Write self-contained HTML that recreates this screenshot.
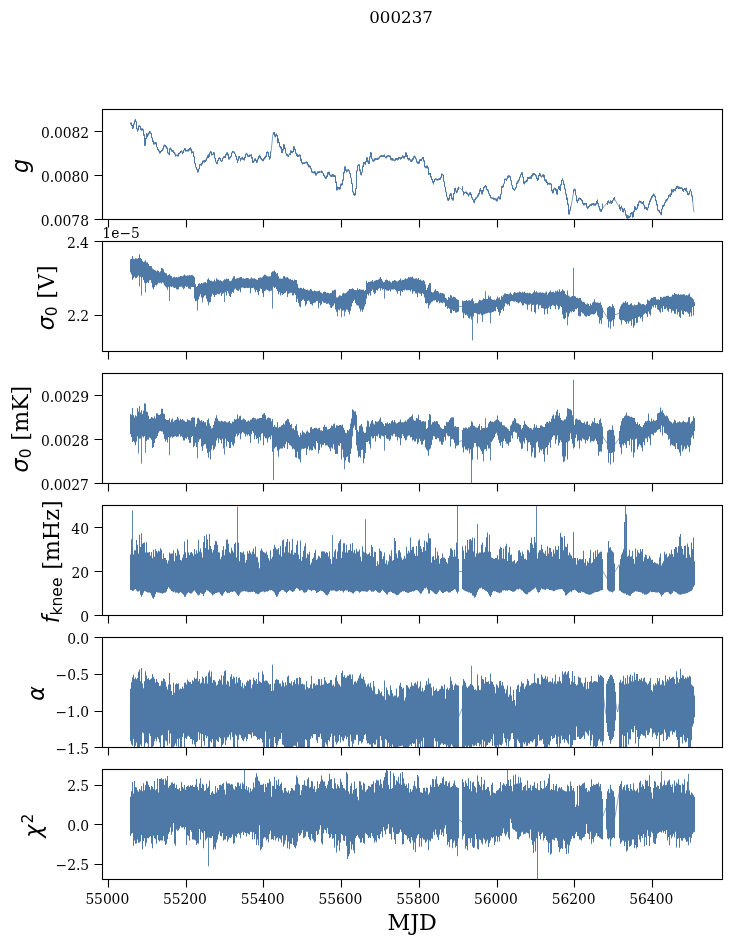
<!DOCTYPE html>
<html lang="en"><head><meta charset="utf-8"><title>000237</title>
<style>
html,body{margin:0;padding:0;background:#fff}
svg{display:block}
text{font-family:"DejaVu Serif","Liberation Serif",serif;fill:#000}
.t{font-size:13.889px}
.l{font-size:22.222px}
.m{font-family:"DejaVu Sans","Liberation Sans",sans-serif;font-style:oblique;font-size:22.222px}
.s{font-family:"DejaVu Sans","Liberation Sans",sans-serif;font-size:15.556px}
.sp{stroke:#000;stroke-width:1.111;fill:none;stroke-linecap:square}
.tk{stroke:#000;stroke-width:1.111;fill:none}
.b{stroke:#4e79a7;stroke-width:1.04;fill:none}
.k{stroke:#4e79a7;stroke-width:0.9;fill:none}
.d{stroke:#4e79a7;stroke-width:0.694;fill:none;stroke-linejoin:round;stroke-linecap:square}
</style></head>
<body>
<svg width="732" height="944" viewBox="0 0 732 944">
<rect width="732" height="944" fill="#fff"/>
<text class="t" style="font-size:16.667px" x="369.23 379.86 390.48 401.11 411.73 422.36" y="22.66">000237</text>
<g>
<g>
<path class="b" d="M130.5 122.5V124.4M131.5 122.5V126.1M132.5 125V128.9M133.5 123.4V128.5M134.5 120.2V124.6M135.5 119.1V122.1M136.5 121.3V129.2M137.5 128.3V131.7M138.5 125.5V130.3M139.5 125.2V126.9M140.5 126.1V129.9M141.5 128.3V130.8M142.5 128.3V130.6M143.5 129.3V135.7M144.5 134.2V145.9M145.5 138V145.6M146.5 133.1V138.9M147.5 133.7V137.3M148.5 132.4V135.6M149.5 131.1V133.7M150.5 131.6V133.8M151.5 133V138.2M152.5 137.4V141.9M153.5 140.5V144.6M154.5 142.3V144.4M155.5 142.1V144.2M156.5 142.5V147.3M157.5 146.9V149.9M158.5 148.9V151.6M159.5 150.5V153.4M160.5 150.9V153.2M161.5 150V152M162.5 148.3V150.9M163.5 145.6V149.4M164.5 144.5V146.8M165.5 144.9V147.2M166.5 145.9V148.7M167.5 147.4V153.2M168.5 152.4V154.5M169.5 148.3V155.3M170.5 147.6V150M171.5 148.7V151.4M172.5 150.1V152.1M173.5 150.3V153M174.5 151.9V154.5M175.5 153.5V156.6M176.5 154.7V156.1M177.5 154.6V156.4M178.5 153V156.4M179.5 152.2V154.3M180.5 151V153.2M181.5 150.4V152.5M182.5 151.5V154.2M183.5 150.1V153.1M184.5 147.9V150.5M185.5 148.3V151.4M186.5 149.7V151.4M187.5 149.4V151.6M188.5 148.9V151.4M189.5 147.9V150.4M190.5 147.2V150.4M191.5 148.8V153.5M192.5 151.2V153M193.5 151.5V156.9M194.5 156.2V163.7M195.5 162.9V167.5M196.5 167.1V169.7M197.5 168.9V172.5M198.5 168.4V172.3M199.5 164.3V169.3M200.5 163.8V165.6M201.5 162.8V165.8M202.5 160.7V164.2M203.5 160.3V162.4M204.5 160.1V162.7M205.5 159.4V161.9M206.5 157.4V160.8M207.5 155.2V158.4M208.5 154.2V158.1M209.5 152.6V157M210.5 151.1V153.5M211.5 151.5V155.5M212.5 153.8V155.2M213.5 152V154.7M214.5 152.5V158.5M215.5 157.8V162.3M216.5 161.7V163.9M217.5 160.1V164.2M218.5 157.8V160.7M219.5 157.3V159.3M220.5 157.9V161.2M221.5 160.2V162.1M222.5 157.8V161.3M223.5 156.2V158.5M224.5 156.1V158.1M225.5 153.9V158.1M226.5 152.4V155.2M227.5 152.2V155.5M228.5 153.7V159.6M229.5 157.1V159.5M230.5 155.8V158.3M231.5 152.6V156.7M232.5 151.1V153.3M233.5 151V152.8M234.5 151.7V154M235.5 153.6V156.8M236.5 155.8V160M237.5 159.3V162.9M238.5 156.2V160.8M239.5 155.9V158.5M240.5 158V161.4M241.5 157.5V159.8M242.5 156.7V159.4M243.5 158V160.3M244.5 156.7V160.6M245.5 153.7V157.9M246.5 152.8V154.8M247.5 153.8V156.7M248.5 155.2V157.1M249.5 154.5V156.9M250.5 154.4V156.2M251.5 154.2V158.5M252.5 156.9V162.9M253.5 160.5V162.7M254.5 158.5V161.6M255.5 158.3V161M256.5 160.1V162.9M257.5 158.6V162.4M258.5 156.1V159.6M259.5 154.8V157.7M260.5 155.8V159.1M261.5 157.8V160.3M262.5 159V161.2M263.5 158.3V161.3M264.5 156.7V159.5M265.5 155.6V158.5M266.5 151.9V157M267.5 151.2V153.6M268.5 151.9V157.1M269.5 156.2V159.8M270.5 151.5V158.6M273.5 132V134.5M274.5 132V136.6M275.5 134.2V137.4M276.5 133.4V136.2M277.5 135.1V143.2M278.5 138.6V142.9M279.5 142V147M280.5 145.9V148.7M281.5 146.8V152.9M282.5 148.9V153.3M283.5 143.9V150.4M284.5 144.6V149.1M285.5 147.7V153.6M286.5 153.3V155.8M287.5 154.1V156.4M288.5 154.8V157.1M289.5 153.2V155.3M290.5 150.3V155M291.5 150.6V152.9M292.5 150.9V153.3M293.5 146.2V152.1M294.5 146.6V150.2M295.5 148.9V153.7M296.5 152.8V156.1M297.5 153.7V156.9M298.5 155V157M299.5 154.3V156.5M300.5 154.8V161M301.5 158.7V163.2M302.5 162.2V164.6M303.5 162.3V164.1M304.5 162.2V163.9M305.5 161.7V163.6M306.5 161.5V163.4M307.5 162V165.5M308.5 164.1V167.2M309.5 165.3V167.4M310.5 165.8V169.1M311.5 168.3V172.5M312.5 171.3V173M313.5 171.6V173.4M314.5 171V173.5M315.5 171.4V175.5M316.5 172.7V175.5M317.5 171.6V173.7M318.5 171.2V173.2M319.5 170.9V173.1M320.5 171.2V172.6M321.5 170.5V173.1M322.5 171.3V173.4M323.5 173V175.9M324.5 174.8V177.8M325.5 176.5V178.9M326.5 175.5V178.7M327.5 172.2V176.9M328.5 171.8V174.4M329.5 171.8V175.6M330.5 174.5V176.7M331.5 174.8V176.9M332.5 174.1V176.7M333.5 174.3V177M334.5 175.1V177M335.5 175.6V183.1M336.5 181.6V190.4M337.5 186.4V190.2M338.5 187V189.3M339.5 187.1V189.7M340.5 183.7V189.3M341.5 183.3V185.8M342.5 179.5V185.2M343.5 172.1V180.8M344.5 166.4V173.2M345.5 166.3V171M346.5 169.5V172.6M347.5 169.4V171.5M348.5 169V171.3M349.5 170.2V173.8M350.5 172.9V178M351.5 177.8V184M352.5 183.2V192.3M353.5 191.4V195.1M354.5 193.3V196M355.5 188.2V195.3M356.5 170.4V189M357.5 165.2V171.3M358.5 164.3V166.1M359.5 164.3V171.2M360.5 169.6V174.7M361.5 172V175.6M362.5 165.4V172.5M363.5 162V167.1M364.5 162.1V164.3M365.5 161.3V165.1M366.5 157.2V162M367.5 157.2V162.4M368.5 160.6V164.1M369.5 156.4V163.9M370.5 152V157.5M371.5 152.4V159.1M372.5 158.4V161.2M373.5 159.4V161.7M374.5 158.2V161.3M375.5 157.9V160.3M376.5 158.2V159.9M377.5 157.7V159.9M378.5 157.5V159.4M379.5 156.2V158.4M380.5 155.3V157.2M381.5 155.1V157.1M382.5 155.3V157.1M383.5 155.1V157M384.5 154.4V156.9M385.5 156.4V158.3M386.5 155.8V158.2M387.5 155.2V157.3M388.5 155V156.8M389.5 155.4V157.2M390.5 155.6V159.8M391.5 157.8V160.5M392.5 158.1V160.8M393.5 158.8V160.6M394.5 159.5V161.2M395.5 158V160.7M396.5 158V160M397.5 157.9V160.6M398.5 157.1V159.8M399.5 157V158.7M400.5 157.2V159.7M401.5 156.8V159.1M402.5 155.3V157.8M403.5 155.8V158.4M404.5 156V158.5M405.5 152.2V157M406.5 152.4V156.7M407.5 155.1V159.2M408.5 158V160.4M409.5 157.8V160.3M410.5 159.3V161.7M411.5 159.6V162M412.5 158.2V161.2M413.5 156.3V159.7M414.5 155.6V157.8M415.5 156.5V159.2M416.5 158.4V162.4M417.5 161.2V163.8M418.5 161.4V164.1M419.5 159.2V163.6M420.5 159V161M421.5 158.6V160.9M422.5 156.9V159.3M423.5 157V161.6M424.5 160.2V167.3M425.5 166.1V168.2M426.5 165.6V168.2M427.5 165.4V168.6M428.5 167.3V175.1M429.5 173.1V174.8M430.5 173V177.6M431.5 176.3V179.9M432.5 179V182.8M433.5 181V184.6M434.5 179V182.1M435.5 178.3V180M436.5 178.5V180.6M437.5 178.9V180.4M438.5 178.4V180.3M439.5 177.9V180M440.5 176.8V179.8M441.5 173.4V178M442.5 173.7V175.6M443.5 174.8V181.7M444.5 181.2V187.1M445.5 186.7V192.2M446.5 191.7V196.9M447.5 196.8V200.5M448.5 198.1V200.9M449.5 194.6V199.7M450.5 192.9V196.1M451.5 193.6V199.2M452.5 197.6V200.6M453.5 192.9V200.4M454.5 188.1V194.1M455.5 187.8V191.6M456.5 190.5V193.2M457.5 188.3V192.6M458.5 186.8V190M462.5 186.2V191.5M463.5 190.9V195.4M464.5 192.1V193.8M465.5 191.4V192.9M466.5 191.7V194.1M467.5 192.5V194.7M468.5 193.8V196.5M469.5 192.5V195.2M470.5 192.1V195.2M471.5 193.7V198.3M472.5 197.2V200.1M473.5 199.4V202.6M474.5 199.1V203.3M475.5 197.6V200.3M476.5 196.8V198.7M477.5 194.7V197.6M478.5 193V196.6M479.5 189.4V194.4M480.5 187.9V191.6M481.5 190.1V194.3M482.5 190.1V194.5M483.5 187V191.4M484.5 185.9V188.3M485.5 184.9V187.2M486.5 185.7V190M487.5 189V191.3M488.5 189.8V193.7M489.5 193.2V195.9M490.5 194.9V198.2M491.5 197.2V198.8M492.5 197.5V198.9M493.5 197.4V199.7M494.5 198.1V199.8M495.5 198.2V200.4M496.5 198.6V201.6M497.5 197.5V201.2M498.5 196.3V198.5M499.5 196.6V199.4M500.5 193.8V199.5M501.5 186.3V194.5M502.5 185.6V188M503.5 183.4V187.2M504.5 178.8V183.8M505.5 178.4V180.1M506.5 178.4V181.1M507.5 175.8V179.3M508.5 175.2V177.7M509.5 175.3V177.5M510.5 176.2V180.8M511.5 180.2V185.5M512.5 185V189.1M513.5 187.9V190.1M514.5 188.8V191M515.5 186.9V189.6M516.5 182.5V187.8M517.5 180.7V183.9M518.5 179.5V182.4M519.5 176.7V180.5M520.5 174.2V177.5M521.5 172.2V175M522.5 172.3V177.5M523.5 176.8V183.8M524.5 181.3V184.6M525.5 180.8V182.8M526.5 179.8V182.3M527.5 176.9V181.5M528.5 177V178.9M529.5 176.8V178.9M530.5 176.3V178.7M531.5 175.1V178.8M532.5 173.6V176.6M533.5 173V175.4M534.5 173V175M535.5 174.1V176.5M536.5 175.3V179.1M537.5 177.8V180.9M538.5 175.1V180.1M539.5 173.1V176.1M540.5 173.6V176.5M541.5 175.4V177.5M542.5 174.5V176.8M543.5 174.3V177.5M544.5 175V180.7M545.5 179.2V181.8M546.5 179.6V183.1M547.5 181.8V185M548.5 182.9V184.6M549.5 182.8V184.7M550.5 183V184.8M551.5 183.7V191.2M552.5 189.8V193.6M553.5 188.8V193M554.5 187.6V189.8M555.5 187.9V190.8M556.5 189V194.4M557.5 189.2V194.8M558.5 185.9V189.2M559.5 186V190.1M560.5 184.3V191.1M561.5 179.9V185.2M562.5 178.6V181.1M563.5 180.4V185.1M564.5 183.7V189.2M565.5 188.5V194.7M566.5 193.8V199.9M567.5 197.6V205.1M568.5 203.4V214.5M569.5 209.7V214.4M570.5 206.4V210.8M573.5 189.5V193.2M574.5 188.5V190.8M575.5 189.2V195.6M576.5 195.2V201.4M577.5 199.8V203M578.5 198V201.1M579.5 197.4V199.5M580.5 198V200M581.5 198.8V201.2M582.5 200V204M583.5 202.8V205.6M584.5 203V205.3M585.5 203.1V204.8M586.5 203.1V207.6M587.5 206.5V208.9M588.5 206V208.2M589.5 204.7V206.9M590.5 204V205.9M591.5 203.5V205.9M592.5 203.2V205M593.5 202.9V205.4M594.5 203.6V205.8M595.5 203.2V205.8M596.5 200.9V204.6M597.5 199.5V204.3M598.5 203.2V207.3M599.5 206.3V210.6M600.5 208.8V211.8M601.5 208.9V211.9M602.5 203.6V209.6M607.5 201.1V205.1M608.5 200.3V203.1M609.5 201.7V203.6M610.5 200.3V203.6M611.5 201.1V204.1M612.5 199.9V203.1M613.5 198V200.5M614.5 197.1V200.4M619.5 204.6V209.2M620.5 207.1V210.8M621.5 205.7V208.8M622.5 207.7V212.1M623.5 208.8V212.4M624.5 208V210.7M625.5 210.2V215.5M626.5 214.2V218.2M627.5 215.1V218.8M628.5 215.5V218.4M629.5 215.7V218M630.5 213.1V216.9M631.5 211.9V214.6M632.5 212V217.8M633.5 210.7V217M634.5 206.3V211.9M635.5 206.4V209.9M636.5 207.7V210.3M637.5 204.1V208.8M638.5 201.8V206.2M639.5 200.4V202.8M640.5 200.9V203.1M641.5 201.5V203.8M642.5 201.9V204.1M643.5 201.1V205.5M644.5 204.8V209.2M645.5 206.7V208.8M646.5 207V209.9M647.5 207.4V210.4M648.5 203.5V208.2M649.5 200.4V204.8M650.5 198.3V202.1M651.5 195.9V199.6M652.5 194.8V197.5M653.5 193.5V196M654.5 194.4V197.1M655.5 195.9V201.2M656.5 200.2V205.6M657.5 204.1V210.4M658.5 209.5V211.5M659.5 210.1V213.1M660.5 212.1V214.6M661.5 208.8V215.2M662.5 205.1V209.6M663.5 204.6V207M664.5 202.3V205.8M665.5 199.7V203.1M666.5 199V201.6M667.5 198.1V200.4M668.5 195.1V198.4M669.5 194.2V196.5M670.5 193.3V197.1M671.5 189.1V194.9M672.5 189.4V192.6M673.5 189.1V192.2M674.5 188.9V190.7M675.5 187.8V191.2M676.5 186.1V188.9M677.5 185.8V188.3M678.5 186.2V189M679.5 186.7V188.9M680.5 187.2V188.9M681.5 187.2V189M682.5 187.7V191.1M683.5 189.1V192.1M684.5 187.9V190.1M685.5 188.2V190.9M686.5 187.8V192.2M687.5 191.2V194.9M688.5 193.1V195.3M689.5 190.8V194.5M690.5 189V191.6M691.5 191.2V196.2M692.5 195.5V201.3"/>
<path class="d" d="M602 209.1 608 201.7M614 198.2 620 208.4M459 187.4 463 190.9M571 207.1 574 189.8M271 152.1 273 133.7M692 195.5 693.9 211.8"/>
</g>
<path class="tk" d="M108.5 219.5v8M186.5 219.5v8M263.5 219.5v8M341.5 219.5v8M419.5 219.5v8M497.5 219.5v8M574.5 219.5v8M652.5 219.5v8M102.5 131.5h-8M102.5 175.5h-8M102.5 219.5h-8"/>
<rect class="sp" x="102.5" y="109.5" width="620.0" height="110.0"/>
<text class="t" x="40.91 49.66 53.91 62.66 71.41 80.16" y="137.58">0.0082</text>
<text class="t" x="40.91 49.66 53.91 62.66 71.41 80.16" y="181.58">0.0080</text>
<text class="t" x="40.79 49.54 53.79 62.54 71.29 80.16" y="225.58">0.0078</text>
</g>
<g>
<g>
<path class="b" d="M130.5 259.2V272.3M131.5 258.7V274.5M132.5 255.9V279.8M133.5 258.7V278.3M134.5 259.2V276.7M135.5 258.3V278.3M136.5 258.4V278M137.5 258.7V276.7M138.5 257.9V275.6M139.5 254.3V277M140.5 258.1V276.7M141.5 259V277.4M142.5 260.8V277.2M143.5 261.9V280M144.5 261.4V282.7M145.5 260.3V282.9M146.5 262.5V283.3M147.5 262.3V282.2M148.5 264.1V283M149.5 266V280.5M150.5 266.1V280M151.5 266.3V282.7M152.5 268.5V287.6M153.5 269.4V289.3M154.5 270.1V287.1M155.5 270.5V284.9M156.5 271.2V285.4M157.5 270.4V284.3M158.5 270.9V282.8M159.5 272.3V283.3M160.5 271.2V282.8M161.5 268V283.5M162.5 268.2V282.2M163.5 269.6V283.3M164.5 272.3V285.4M165.5 273V286.5M166.5 273.6V287.5M167.5 275.4V289.8M168.5 275.1V287.1M169.5 274.3V287M170.5 275.6V286.5M171.5 276.1V287.1M172.5 277.7V286.4M173.5 277.2V287.4M174.5 276.7V287.9M175.5 277.6V287.8M176.5 276.9V289.3M177.5 277.5V289.6M178.5 276.7V289.3M179.5 276.8V287.1M180.5 276.1V286.7M181.5 276.1V286.5M182.5 276.2V287.6M183.5 275.6V289.3M184.5 274.5V288.2M185.5 275.6V286.2M186.5 275.7V287.1M187.5 275.4V286.5M188.5 275.6V288.4M189.5 275V288.7M190.5 275.4V289.3M191.5 274.9V287.1M192.5 275.2V287M193.5 275.8V287.1M194.5 277.2V298.6M195.5 284.3V301.3M196.5 287.1V300.7M197.5 286V301.8M198.5 283.8V299.6M199.5 283.3V296.4M200.5 283.9V294.2M201.5 283V297.5M202.5 283.6V299.6M203.5 282.7V297.5M204.5 282.2V295.8M205.5 282.2V295.3M206.5 282.9V298.7M207.5 279.6V301.4M208.5 278.2V303.6M209.5 280.1V302.5M210.5 280.8V302M211.5 280.7V296.5M212.5 281.5V293.8M213.5 281.2V295.1M214.5 279.6V297.1M215.5 281.3V294.9M216.5 278.2V294.7M217.5 279.6V293.8M218.5 279.8V294.2M219.5 280.4V294.3M220.5 280.2V292.7M221.5 281V296M222.5 281.4V293.8M223.5 280.4V293.3M224.5 279.3V291.2M225.5 279.6V292.2M226.5 278.5V295.4M227.5 278.9V291.1M228.5 278.8V293.3M229.5 280.7V296M230.5 281.2V297.1M231.5 280.4V293.8M232.5 278.5V292.1M233.5 276.6V292.7M234.5 276.3V289.4M235.5 279V288.6M236.5 278.5V290M237.5 278V290.4M238.5 278.2V291.1M239.5 277.4V289.4M240.5 277.1V292.2M241.5 276.9V287.8M242.5 278.5V287.4M243.5 278.2V287.8M244.5 278.7V288.3M245.5 278.5V287.9M246.5 278V287.8M247.5 277.9V288.1M248.5 278.2V288M249.5 279.2V287.8M250.5 278.5V293.3M251.5 277.4V288.3M252.5 278.5V287.9M253.5 278.5V287.8M254.5 278.2V289.4M255.5 278.9V292.2M256.5 279.6V290M257.5 279.9V292.2M258.5 278V295.2M259.5 277.8V291.1M260.5 277.4V288.4M261.5 277.7V288.9M262.5 277V293.3M263.5 275.8V297.1M264.5 274.5V291.1M265.5 275.1V290.5M266.5 275.8V289.5M267.5 276.3V290M268.5 276.5V290.8M269.5 276.3V291.4M270.5 276.3V290.5M271.5 272.5V290.8M272.5 271.4V286.5M273.5 271.2V286.7M274.5 270.5V287.9M275.5 271.9V287.2M276.5 273.8V288.9M277.5 273V291.1M278.5 276.3V294.3M279.5 278.5V292.2M280.5 278.5V295.4M281.5 278.8V293.3M282.5 278.5V294.9M283.5 276.3V294M284.5 275.9V293.3M285.5 277.4V292.7M286.5 277.4V291.2M287.5 276.9V297.1M288.5 278.2V293.8M289.5 279.3V293.3M290.5 278.8V292.7M291.5 280.1V292.7M292.5 279.7V295.4M293.5 280.7V295.3M294.5 279.6V293.3M295.5 280V294.9M296.5 279.9V302M297.5 284V298.7M298.5 287.8V303.1M299.5 288.3V306.2M300.5 287.7V307.2M301.5 288V300.9M302.5 288.7V299.8M303.5 287.8V299.4M304.5 289.1V300.9M305.5 289.6V305.9M306.5 290V304.2M307.5 289.4V300.9M308.5 290.6V300.6M309.5 290.2V301.4M310.5 289.1V304.1M311.5 289.6V304.2M312.5 291.1V305.5M313.5 291.3V303.1M314.5 290.6V302.7M315.5 291.1V302.5M316.5 291.3V301.1M317.5 291.3V300.9M318.5 291.1V308.3M319.5 290.4V303.1M320.5 292.2V305.5M321.5 292.7V304.2M322.5 293.5V301.3M323.5 291.9V302.5M324.5 291.5V303.1M325.5 291.9V302.7M326.5 292.7V304M327.5 292.8V303.8M328.5 293V303.6M329.5 293.4V304.7M330.5 293V307.5M331.5 292.7V308M332.5 290.5V306.4M333.5 290.5V305.4M334.5 289.8V303.6M335.5 289.8V309.6M336.5 297.2V311.8M337.5 297.4V312.6M338.5 296.5V309.6M339.5 295.3V310.4M340.5 295.4V308.6M341.5 296V309.7M342.5 293.8V310.7M343.5 292.7V310.2M344.5 293.4V309.4M345.5 293.3V311.8M346.5 292.6V309.6M347.5 291.6V309.8M348.5 290.5V311.8M349.5 289V314.6M350.5 288.9V310.7M351.5 289.1V306.4M352.5 288.3V303.1M353.5 288.9V300.9M354.5 290V299.8M355.5 290V303.1M356.5 290.2V304.7M357.5 288.3V305.4M358.5 289.8V305.8M359.5 288.9V308.6M360.5 289.4V311.6M361.5 289.8V309.6M362.5 289.8V311.8M363.5 289.4V309.6M364.5 290.9V306.4M365.5 290V304.2M366.5 280.7V298.7M367.5 282.9V294.3M368.5 281.8V295.4M369.5 282.1V293.3M370.5 281.6V295.4M371.5 281.2V291.1M372.5 280.1V289.5M373.5 281.8V292.2M374.5 280.7V293.9M375.5 280.6V293.3M376.5 280.1V290M377.5 280V290.4M378.5 279.6V288.9M379.5 278.5V287.9M380.5 276.9V290.5M381.5 279V288.3M382.5 280.7V289.8M383.5 282.2V288.9M384.5 281.8V288.5M385.5 279.9V289.4M386.5 279.4V290.4M387.5 280.1V290.5M388.5 281.2V291.1M389.5 280.7V289.8M390.5 281.8V291.6M391.5 282.7V289.6M392.5 281V289.4M393.5 280.7V289.4M394.5 279.9V289.3M395.5 280.5V290M396.5 281.2V291.6M397.5 281.4V293.8M398.5 280.7V291.1M399.5 279.9V291.1M400.5 278.5V295.7M401.5 280.4V291.1M402.5 279.8V292.1M403.5 279.9V290M404.5 279.6V290.5M405.5 278.2V289.4M406.5 278.9V290.2M407.5 278.5V290.2M408.5 277V290.3M409.5 277.4V290M410.5 276.9V291.6M411.5 277.2V289.7M412.5 276.6V293.8M413.5 278.2V291.6M414.5 278.8V291.2M415.5 278.5V293.3M416.5 278.2V293.5M417.5 279.3V297.1M418.5 278V292.7M419.5 279.9V293.4M420.5 279.6V293.8M421.5 280.4V296M422.5 280.7V293.3M423.5 280V294.3M424.5 281.2V297.6M425.5 284.5V303.1M426.5 290V303.6M427.5 287.8V303.1M428.5 285.1V308.6M429.5 283.2V305.3M430.5 283.2V303.6M431.5 291.8V302.2M432.5 292.4V301.6M433.5 292.3V300.6M434.5 290.4V300.5M435.5 289.3V300M436.5 291V302.3M437.5 291.1V302.2M438.5 291.8V301.1M439.5 293.6V303.3M440.5 292.7V302.5M441.5 293.2V302.7M442.5 293V303.2M443.5 293.6V302.2M444.5 294.3V302.7M445.5 297.8V307.1M446.5 298.5V306M447.5 300V308.7M448.5 297V308.1M449.5 297.8V308.7M450.5 295.1V313.1M451.5 295.4V313.3M452.5 297.4V309.8M453.5 296.7V310.9M454.5 297V310.8M455.5 297.6V312.5M456.5 298.9V312.5M457.5 299.4V312M458.5 300V311.4M462.5 300.5V312.5M463.5 301.3V318.3M464.5 301.1V313.6M465.5 300.8V315.3M466.5 300V314.4M467.5 301.1V315.8M468.5 300.5V318.1M469.5 300.2V318.6M470.5 300.8V316.4M471.5 299.4V319.6M472.5 298.2V315.1M473.5 301.1V316.4M474.5 303.5V313.1M475.5 303.1V313.1M476.5 303.3V313.6M477.5 303V313.5M478.5 301.6V314.2M479.5 299.8V314.6M480.5 300.2V313.6M481.5 300.6V315.3M482.5 299.8V315.5M483.5 298.2V314.6M484.5 299.1V314.2M485.5 298V313.6M486.5 298.9V313.6M487.5 299.1V313.1M488.5 295.4V312.5M489.5 297.2V313.1M490.5 296.3V313.4M491.5 298.9V312.5M492.5 299.8V312M493.5 299.9V311.7M494.5 299.4V310.9M495.5 300.2V311.3M496.5 298.7V307.1M497.5 296.5V309.3M498.5 298.3V312M499.5 297.3V315.5M500.5 299.8V313.1M501.5 295.7V309.9M502.5 296.7V308.7M503.5 295.1V310.9M504.5 293.4V306.5M505.5 293.4V303.3M506.5 294.1V303.7M507.5 293.9V304.8M508.5 294.2V304.3M509.5 293.7V306.1M510.5 292.6V301.5M511.5 294V301M512.5 295V301M513.5 293.3V301.5M514.5 291.9V301.8M515.5 292.6V301.3M516.5 293V302.1M517.5 292.5V302.4M518.5 292.6V303.2M519.5 291.6V302.6M520.5 291.9V301.8M521.5 292.8V303.2M522.5 291.8V305.4M523.5 292.6V305.3M524.5 291.5V303.2M525.5 293V303.7M526.5 293V304.5M527.5 292.8V309.7M528.5 293.3V304.8M529.5 292.8V304.8M530.5 293.3V303.7M531.5 293.9V311.4M532.5 293.3V305M533.5 292.2V304.8M534.5 290.4V311.9M535.5 292.2V313.5M536.5 291.2V304.8M537.5 292.6V304.3M538.5 292.8V309.2M539.5 292.4V305.4M540.5 292.2V305.3M541.5 292.7V308.1M542.5 292.6V308.1M543.5 292.8V308.4M544.5 293.2V314.4M545.5 292.6V309.2M546.5 291.5V308.6M547.5 294.4V314.1M548.5 292.8V308.1M549.5 291.7V306.4M550.5 290.4V309.2M551.5 292.2V305.9M552.5 292.1V304.9M553.5 291.7V305.4M554.5 292.8V305.9M555.5 290.8V309.2M556.5 291.5V304.8M557.5 290.4V305.9M558.5 291.7V309.8M559.5 289.3V308.6M560.5 291.7V305.9M561.5 291.1V307M562.5 289.3V314.6M563.5 290.6V318.5M564.5 291.2V319.3M565.5 293.9V317.9M566.5 295V312.5M567.5 290.6V316.2M568.5 295.5V316.8M569.5 296.6V313.6M570.5 297.2V311.5M571.5 296.6V312.5M572.5 296.1V311M573.5 296.7V311.9M574.5 296.1V311.4M575.5 296.6V309M576.5 297.9V309.2M577.5 297.7V308.1M578.5 298.5V315.7M579.5 298V316.3M580.5 298V316.3M581.5 300.6V312.1M582.5 301.7V313.2M583.5 301.7V313.7M584.5 302.2V315.4M585.5 303.9V316.4M586.5 304.4V316.7M587.5 303.3V315.4M588.5 304.1V315.9M589.5 306.1V315.9M590.5 303.4V314.8M591.5 305V314.2M592.5 302.8V314.3M593.5 301.7V314.5M594.5 299.3V314.3M595.5 302.2V313.2M596.5 302.6V311.4M597.5 302.6V315.4M598.5 302.8V317M599.5 303V323.6M600.5 302.2V320.3M601.5 305V324.1M602.5 307.7V318.1M607.5 307.7V319.2M608.5 306.8V327.4M609.5 306.1V321.4M610.5 306.6V328.8M611.5 307.2V321.4M612.5 304.1V320.3M613.5 306.1V326.3M614.5 308.3V319.2M619.5 309.3V319.2M620.5 306.6V320.3M621.5 304.4V324.6M622.5 303.4V320.3M623.5 302.2V320M624.5 302.8V320.8M625.5 301.1V321.9M626.5 302.8V324.1M627.5 302V321.4M628.5 304.8V323.6M629.5 304.8V321.5M630.5 303.7V320.8M631.5 303.3V325.7M632.5 305.2V319.2M633.5 305.4V327.8M634.5 304.4V325.5M635.5 305.3V318.1M636.5 305V323M637.5 304.4V322.5M638.5 301.9V317M639.5 302.8V316.4M640.5 303.5V318.6M641.5 304.4V317M642.5 304.1V321.4M643.5 303.9V314.8M644.5 304.8V313.7M645.5 305.3V312.9M646.5 303.9V314.3M647.5 299.5V317M648.5 300.6V311.5M649.5 300.8V314M650.5 299.3V315.4M651.5 297.8V309.3M652.5 297.9V306.3M653.5 297.3V307.2M654.5 297.1V305M655.5 297.1V307.7M656.5 299.5V305M657.5 299.5V309.3M658.5 299.3V309.9M659.5 300.1V311.5M660.5 296.8V312.8M661.5 297.3V308.3M662.5 297.7V312.1M663.5 296.8V306.1M664.5 296.8V309.3M665.5 296.4V309.1M666.5 296V307.7M667.5 295.8V310.4M668.5 295.7V311.7M669.5 297V308.8M670.5 296.8V309.1M671.5 296.4V312.8M672.5 294.5V310.4M673.5 294.9V311M674.5 293V313.7M675.5 294V313.7M676.5 294.3V309.3M677.5 294.5V314.4M678.5 293.8V312.1M679.5 294.9V316.8M680.5 294.5V317.9M681.5 294.6V310.4M682.5 294.4V314M683.5 294.3V314.8M684.5 294.6V311M685.5 295.4V312.1M686.5 294.9V311.4M687.5 295.5V312.6M688.5 294.6V313.7M689.5 293.5V316.8M690.5 296.8V312.6M691.5 297.3V316.4M692.5 298.3V307.2M693.5 299.5V315.4M694.5 302.2V306.1"/>
<path class="k" d="M139.5 265.6V286.5M141.5 268.2V295.5M145.5 271.6V292.5M169.5 280.7V301M197.5 293.9V310.6M202.5 291.6V302.4M208.5 290.9V305.3M224.5 285.2V302M272.5 279V308.6M337.5 305V316.2M341.5 302.9V317.1M344.5 301.4V316.2M384.5 285.1V298.7M429.5 294.2V283M485.5 305.8V291.2M472.5 306.7V340.4M477.5 308.2V323.5M482.5 307.7V322M490.5 304.8V323.5M573.5 304.3V267.7M567.5 303.4V325.4"/>
<path class="d" d="M459 306.5 462.4 306.5M602.9 310.4 606.9 317M614.9 314.8 619.3 313.2"/>
</g>
<path class="tk" d="M108.5 351.5v8M186.5 351.5v8M263.5 351.5v8M341.5 351.5v8M419.5 351.5v8M497.5 351.5v8M574.5 351.5v8M652.5 351.5v8M102.5 241.5h-8M102.5 315.5h-8"/>
<rect class="sp" x="102.5" y="241.5" width="620.0" height="110.0"/>
<text class="t" x="67.04 75.79 80.04" y="247.58">2.4</text>
<text class="t" x="67.16 75.91 80.16" y="320.91">2.2</text>
</g>
<g>
<g>
<path class="b" d="M130.5 414.1V434.3M131.5 414.7V437.1M132.5 408.1V442M133.5 415.2V441.1M134.5 417.4V442.5M135.5 415.2V445.3M136.5 416.2V441.4M137.5 407.9V436.5M138.5 411.4V438.2M139.5 405.9V438.7M140.5 412.5V438.6M141.5 410.3V435.3M142.5 414.1V436.5M143.5 410.8V437.5M144.5 403.2V436M145.5 403.7V441.3M146.5 411.4V440.9M147.5 411.9V439.6M148.5 415.8V439.8M149.5 419V437.5M150.5 418.6V438.2M151.5 416.9V439.8M152.5 417.4V448.1M153.5 418.2V446.9M154.5 416.3V443.1M155.5 418.5V438.7M156.5 413.2V438M157.5 413.6V436M158.5 414.7V432.7M159.5 415.1V431.3M160.5 414.1V431M161.5 408.7V431.5M162.5 408.7V431.6M163.5 413.6V434.3M164.5 414.1V438.7M165.5 419V441.5M166.5 419.9V439.8M167.5 420.1V442.5M168.5 419.9V437.1M169.5 418.2V437.8M170.5 422.3V437.6M171.5 419.6V436.5M172.5 418.6V437.7M173.5 421.8V437.1M174.5 420.4V436.5M175.5 420.1V436M176.5 419.6V437.1M177.5 416.8V436.4M178.5 418.5V436.5M179.5 420.4V434.3M180.5 418.7V436.7M181.5 419.9V436M182.5 419V437.6M183.5 420.2V440.4M184.5 420.7V440.4M185.5 421.8V438.2M186.5 421.7V438.8M187.5 419.3V437.1M188.5 420.1V439.8M189.5 420.3V442.8M190.5 420.7V443.1M191.5 418V437.1M192.5 417.3V436M193.5 417.4V447.3M194.5 417.4V445.8M195.5 426.7V442.8M196.5 424V446.9M197.5 418.2V438.3M198.5 417.7V442M199.5 419.6V439.4M200.5 421.2V438.7M201.5 420V446.4M202.5 421.8V450.7M203.5 421.1V445.8M204.5 422.3V444.2M205.5 422.3V444.2M206.5 425.6V448.6M207.5 420.1V452.9M208.5 418.5V457.8M209.5 423.4V451.8M210.5 426.1V459.5M211.5 428.6V449.6M212.5 427.8V445.3M213.5 425.1V450.2M214.5 421.2V448.8M215.5 418V446.4M216.5 415.2V440.4M217.5 418.5V438.2M218.5 420.7V443.1M219.5 421.2V438.7M220.5 421.4V440M221.5 420.7V443.6M222.5 421.3V438.7M223.5 421.8V448.6M224.5 421.3V442.9M225.5 421.2V438.7M226.5 422.3V446.4M227.5 422.6V440.9M228.5 421.8V442M229.5 420.9V448M230.5 422.9V448M231.5 423.6V442M232.5 421.4V444.7M233.5 421.8V446.2M234.5 419V443.6M235.5 419.5V436.5M236.5 419.3V433.8M237.5 414.5V436.5M238.5 418.5V434.9M239.5 416.3V433.3M240.5 415.8V439.3M241.5 420.1V433.8M242.5 419.6V432M243.5 418.5V432.7M244.5 419.3V433.8M245.5 420.1V436.5M246.5 421.8V434.2M247.5 421.2V435.4M248.5 420.4V434.3M249.5 421.2V436M250.5 419.8V443.1M251.5 419.6V434.3M252.5 418.1V431M253.5 417.4V432.7M254.5 418.2V439.3M255.5 418.2V435.4M256.5 419.6V439.1M257.5 418.5V438.2M258.5 418.7V443.6M259.5 418V437.1M260.5 418.1V440.4M261.5 418V433.8M262.5 414.7V433.2M263.5 413.8V445.3M264.5 413V436.5M265.5 415.2V438.2M266.5 419.6V438.4M267.5 418V442.5M268.5 417.4V438.2M269.5 418V437.1M270.5 418.3V439.3M271.5 421.2V435.4M272.5 419V451.8M273.5 426.7V447.5M274.5 425.1V448.6M275.5 426.8V446.9M276.5 427.2V446.4M277.5 422.3V450.7M278.5 427.8V456.7M279.5 426.7V449.6M280.5 426.7V448.6M281.5 425.6V448.6M282.5 424.9V448.6M283.5 423.6V446.5M284.5 424.5V448M285.5 421.2V444.2M286.5 420.2V441.8M287.5 418.8V449.1M288.5 419.3V443.1M289.5 422.3V444.7M290.5 425.1V445.4M291.5 424V446.4M292.5 428.4V449.3M293.5 428.3V448.6M294.5 430V449.6M295.5 426.1V457.3M296.5 424.3V457.8M297.5 431.1V451.8M298.5 434.9V458.4M299.5 437.1V459.6M300.5 432.7V462.5M301.5 434.7V449.6M302.5 430.5V448.6M303.5 432.2V449M304.5 432.7V448.6M305.5 433.8V448.1M306.5 431.6V455.1M307.5 430.5V449.1M308.5 432.2V446.4M309.5 432.7V450.6M310.5 427.6V449.6M311.5 427.1V450.5M312.5 428.9V450.2M313.5 428.7V446.4M314.5 428V448.6M315.5 428V449.8M316.5 427.8V440.9M317.5 428.9V443.1M318.5 428.3V453.5M319.5 427.7V450M320.5 430.5V444.2M321.5 430.2V447.5M322.5 431V444.7M323.5 426.7V444.7M324.5 424.7V443.1M325.5 427.1V445.4M326.5 426.7V445.3M327.5 429.4V445.4M328.5 429.2V446.9M329.5 429.1V448.6M330.5 427.8V451.3M331.5 425.4V447.5M332.5 426.1V448.6M333.5 424.3V444.2M334.5 423.4V449.6M335.5 427.8V454M336.5 425.2V453.8M337.5 425.6V454M338.5 426.1V445.3M339.5 424.9V446M340.5 425.1V443.1M341.5 425.6V459.5M342.5 424.5V449.6M343.5 427.8V457.3M344.5 430V461.8M345.5 432.7V460.6M346.5 433.3V457.3M347.5 430V456.5M348.5 430.7V461.7M349.5 428.9V462.8M350.5 423.4V454M351.5 418.5V448.6M352.5 409.2V436.5M353.5 410.3V427.8M354.5 411.4V425.6M355.5 411.4V430M356.5 414.7V445.3M357.5 430V450.7M358.5 431.7V457.3M359.5 426.1V456.2M360.5 425.6V457.8M361.5 424V450M362.5 426.7V449.6M363.5 431.6V463.3M364.5 433V458.4M365.5 432.7V452.9M366.5 426.7V442M367.5 420.4V441.9M368.5 421.2V440.9M369.5 426.7V444.2M370.5 423.4V448.6M371.5 421.1V436.5M372.5 419.9V438.5M373.5 423.4V438.2M374.5 424.6V436M375.5 421V441.4M376.5 421.8V436M377.5 421.8V436.5M378.5 421.2V434.3M379.5 419.6V438.1M380.5 417.4V438.7M381.5 421.8V435.4M382.5 422.6V436M383.5 424V436.5M384.5 426.1V436.5M385.5 422.9V434.9M386.5 423.5V438.2M387.5 422.3V439.1M388.5 424V439.3M389.5 422.9V440.9M390.5 423.4V439.5M391.5 421.2V435.4M392.5 420.2V436.3M393.5 422.3V434.3M394.5 419.9V433.8M395.5 422.3V436.7M396.5 423.5V436.5M397.5 422.9V440.4M398.5 422V437.1M399.5 421.8V438.2M400.5 419.6V445.3M401.5 422.3V438.2M402.5 422.2V434.1M403.5 422.3V436M404.5 421.8V438.2M405.5 420.6V440.5M406.5 421.4V439.8M407.5 419.6V436.5M408.5 418.7V435.4M409.5 417.4V435.4M410.5 416.9V437.4M411.5 416.2V437.1M412.5 414.5V440.4M413.5 419.6V439.8M414.5 420.7V441.5M415.5 420.5V441.4M416.5 418V438.7M417.5 418.5V444.2M418.5 414.7V442.5M419.5 420.1V438.7M420.5 419.9V440.9M421.5 421.8V444.7M422.5 421.2V444.5M423.5 420.9V440.9M424.5 421.8V439.8M425.5 421.2V447.5M426.5 428.9V449.6M427.5 427.8V450.7M428.5 420.1V455.7M429.5 414.1V449.6M430.5 414.7V448.6M431.5 424.5V445.1M432.5 422.3V439.8M433.5 422.3V436M434.5 421.2V436.5M435.5 421.8V439.1M436.5 421V439.3M437.5 421.2V437.8M438.5 424V438.2M439.5 424.7V441.4M440.5 427.2V441.4M441.5 428.3V444.5M442.5 429V444.7M443.5 428.9V442M444.5 425.4V437.1M445.5 426.1V440.4M446.5 422.1V433.2M447.5 422.3V435.4M448.5 421.8V436.5M449.5 420.1V436M450.5 418.2V446.4M451.5 417.4V439.3M452.5 417.2V438.8M453.5 417.4V439.8M454.5 426.7V443.1M455.5 426.1V448.6M456.5 427.2V445.8M457.5 427V445.6M458.5 426.9V445.3M462.5 430V447.5M463.5 427.8V452.4M464.5 428.3V446.4M465.5 427.6V449.6M466.5 427.8V449.6M467.5 428.7V450.7M468.5 427.2V448.6M469.5 427.2V453.5M470.5 426.1V449.6M471.5 421.2V459.5M472.5 422.3V459.8M473.5 425.6V447.5M474.5 426.1V443.1M475.5 427.2V443.1M476.5 427.4V446.4M477.5 427.8V447.6M478.5 426.1V446.4M479.5 424V447.4M480.5 430V449.6M481.5 426.1V451.3M482.5 428.3V454M483.5 427.9V452M484.5 427.8V449.6M485.5 428.8V449.1M486.5 427.8V450.7M487.5 427.2V445.3M488.5 423.4V448.6M489.5 421.8V448.6M490.5 420.7V441.4M491.5 421.8V442M492.5 421.8V440.4M493.5 422.3V438.7M494.5 421.2V437.1M495.5 420.6V434M496.5 419.6V432.7M497.5 415.5V435.4M498.5 420.1V439.8M499.5 421.2V443.1M500.5 422.3V445.8M501.5 421.8V442M502.5 425.1V448M503.5 425.6V440.9M504.5 425.6V438.7M505.5 426.7V441.4M506.5 427.3V443.6M507.5 428.6V443.8M508.5 429.2V445.8M509.5 431.1V442.4M510.5 425.7V442M511.5 424.5V435.6M512.5 421.6V438.4M513.5 420.4V432.1M514.5 418.1V431.5M515.5 418.7V432.6M516.5 422.8V432.7M517.5 423.3V439.1M518.5 423.4V436.9M519.5 424.5V441.4M520.5 425.1V443.2M521.5 429.2V449.1M522.5 427.9V448.4M523.5 425.1V441.4M524.5 421V443.6M525.5 423.9V437.9M526.5 425.1V440.3M527.5 426.3V451.3M528.5 426.9V442.6M529.5 428.2V441.9M530.5 428V444.9M531.5 428.6V456.6M532.5 429.8V452.6M533.5 427.7V447.8M534.5 423.9V457.7M535.5 427.4V457.5M536.5 425.3V442.6M537.5 428.1V441.4M538.5 428V447.3M539.5 428V452.5M540.5 425.6V449.6M541.5 425.3V450.7M542.5 426.3V449M543.5 427.1V454.2M544.5 426.9V461.8M545.5 423.9V448.4M546.5 422.2V447M547.5 421.7V454.8M548.5 422.8V444.9M549.5 421V442.6M550.5 422V447.8M551.5 418.7V439.7M552.5 415.8V437.1M553.5 414.4V435.6M554.5 418.7V435.6M555.5 415.2V443.8M556.5 411.4V439.6M557.5 409.4V435.6M558.5 415.8V445.5M559.5 412.9V443M560.5 418.1V440.3M561.5 419.9V442M562.5 420.5V456.6M563.5 420.4V462.2M564.5 419.5V461.3M565.5 419.3V456.6M566.5 416.4V442.6M567.5 408.2V459.5M568.5 408.8V441.4M569.5 409V440.6M570.5 409.4V433.3M571.5 410.5V439.1M572.5 415.2V443.8M573.5 421.7V448.4M574.5 425.1V447.2M575.5 419.3V437.9M576.5 418.6V434.4M577.5 419.5V441.6M578.5 419.9V440.3M579.5 419.8V448.4M580.5 420.4V440.3M581.5 422.3V440.9M582.5 423V438.2M583.5 422.9V439.2M584.5 421.8V439.8M585.5 424.3V443.6M586.5 421.7V440M587.5 421.2V440.9M588.5 425.1V439.3M589.5 424.4V436.4M590.5 426.1V442.5M591.5 423.6V440.9M592.5 421.2V441M593.5 422.3V441.4M594.5 418V440.6M595.5 422.9V438.7M596.5 423.6V440.9M597.5 422.8V444.2M598.5 424V455.7M599.5 420.1V451.8M600.5 418.5V451.3M601.5 422.9V451.8M602.5 426.7V444.2M607.5 431.1V449.6M608.5 430.2V462.8M609.5 429.4V452.9M610.5 429.8V464.4M611.5 430V452.9M612.5 425.6V452.4M613.5 430V462.2M614.5 435.4V451.8M619.5 431.1V444.2M620.5 425.6V447.5M621.5 421.2V454M622.5 418.2V444.2M623.5 418V445.4M624.5 416.3V443.1M625.5 415.2V444.7M626.5 412.5V448M627.5 415.8V440.9M628.5 415.7V441.1M629.5 416.3V445.3M630.5 416.9V438.7M631.5 416.8V451.8M632.5 417.4V439.8M633.5 417.9V457.6M634.5 418V452.4M635.5 421.8V439.3M636.5 424V438.4M637.5 422.3V449.6M638.5 425.1V446.4M639.5 424V444.2M640.5 426.1V445.2M641.5 426.9V447.5M642.5 427.2V451.3M643.5 425.1V442M644.5 422.9V445.3M645.5 421.2V438.5M646.5 421.5V438.2M647.5 420.7V442M648.5 413.6V436.5M649.5 420.7V438.2M650.5 421.8V445.3M651.5 418.5V434.3M652.5 421.2V434.3M653.5 419.8V435.4M654.5 420.7V432.7M655.5 420.7V432.7M656.5 420.1V431.8M657.5 413.6V430M658.5 413V429.4M659.5 412.5V428.9M660.5 407.6V432.2M661.5 411.4V425.6M662.5 410.2V435.4M663.5 413V426.7M664.5 414.7V432.7M665.5 416.3V433.2M666.5 415.6V433.8M667.5 416.3V434.9M668.5 418.5V439.8M669.5 420.7V438.7M670.5 421.4V445.7M671.5 422.3V444.2M672.5 423.6V445.3M673.5 422.3V445.8M674.5 419.7V446.4M675.5 420.4V449.1M676.5 422.9V443.1M677.5 422.2V449.1M678.5 422.3V449.6M679.5 421.2V452.4M680.5 422.3V455.7M681.5 422.4V445.3M682.5 421.8V451.5M683.5 420.7V449.6M684.5 422.1V446.4M685.5 422.3V449.2M686.5 422.4V448.6M687.5 421.8V445.3M688.5 417.4V446.9M689.5 416.9V451.8M690.5 423.4V445.3M691.5 421.8V437.6M692.5 420.7V435.4M693.5 416.3V438.7M694.5 418V431.1"/>
<path class="k" d="M138.5 424.8V453.5M141.5 422.8V463.6M145.5 422.5V452.9M169.5 428V455.3M197.5 428.3V458.4M224.5 432.1V454.6M273.5 437.1V480.2M344.5 445.9V469.3M384.5 431.3V450.7M429.5 431.9V414.1M471.5 440.4V483.5M477.5 437.7V459.5M483.5 440V461.4M490.5 431.1V460.6M485.5 439V418.2M573.5 435.1V379.7"/>
<path class="d" d="M459.1 441.8 462.4 440.4M602.9 436.5 606.9 443.1M615.1 444.2 619.3 438.2"/>
</g>
<path class="tk" d="M108.5 483.5v8M186.5 483.5v8M263.5 483.5v8M341.5 483.5v8M419.5 483.5v8M497.5 483.5v8M574.5 483.5v8M652.5 483.5v8M102.5 395.5h-8M102.5 439.5h-8M102.5 483.5h-8"/>
<rect class="sp" x="102.5" y="373.5" width="620.0" height="110.0"/>
<text class="t" x="40.91 49.66 53.91 62.66 71.41 80.16" y="401.58">0.0029</text>
<text class="t" x="40.91 49.66 53.91 62.66 71.41 80.16" y="445.58">0.0028</text>
<text class="t" x="40.79 49.54 53.79 62.54 71.29 80.04" y="489.58">0.0027</text>
</g>
<g>
<g>
<path class="b" d="M130.5 554.6V589.9M131.5 539.3V590M132.5 547.3V591.1M133.5 554.6V590.7M134.5 550.3V589.7M135.5 550.3V589.1M136.5 540.1V590.6M137.5 544.8V591.6M138.5 553.6V591.6M139.5 534.8V590.7M140.5 547V594.8M141.5 533.2V596.7M142.5 543.7V594.9M143.5 542.7V592.7M144.5 542.6V591M145.5 552.5V591.3M146.5 542.3V592.1M147.5 552.5V592.6M148.5 552.5V592.5M149.5 552.1V592.5M150.5 555.7V593.2M151.5 552.1V595.6M152.5 558.3V597.7M153.5 549.8V598.8M154.5 556.8V597M155.5 549.3V594.3M156.5 550.9V592.1M157.5 552.5V592.5M158.5 550.5V592.5M159.5 551.4V592.8M160.5 548.3V593M161.5 549.8V593.3M162.5 559V593.7M163.5 553.6V593.1M164.5 558V592.8M165.5 557.9V592.6M166.5 560.1V591.6M167.5 563.2V589M168.5 560.6V587.2M169.5 552.5V588.4M170.5 553.8V589.6M171.5 553.4V591.1M172.5 553.6V591.5M173.5 550.3V592.3M174.5 561.2V591.6M175.5 552.9V592.8M176.5 555.7V592.4M177.5 548.8V592.7M178.5 550.7V593.4M179.5 554.4V592.7M180.5 560.1V591.9M181.5 560.5V592.8M182.5 557.7V593.8M183.5 554.6V594.8M184.5 541.5V596.7M185.5 552.3V596.8M186.5 557.9V594.4M187.5 539.4V593.2M188.5 552.5V592.3M189.5 555.1V593.1M190.5 552.4V593.6M191.5 552V593.6M192.5 553.5V592.4M193.5 555.7V591.2M194.5 549V590.4M195.5 554.3V591.7M196.5 550.3V593.3M197.5 553.2V594.8M198.5 539.8V595.4M199.5 551.4V594.7M200.5 548.6V592.8M201.5 552.5V593.6M202.5 557.4V594M203.5 542.1V595.9M204.5 536.1V593.5M205.5 548.1V591.9M206.5 534.5V590.2M207.5 539.6V590.4M208.5 549.6V591.1M209.5 533.9V592.1M210.5 545.9V592.8M211.5 549.1V593.7M212.5 552.5V595.4M213.5 549.9V594.6M214.5 544.8V594M215.5 541.1V593.1M216.5 541.3V593M217.5 544.8V592.4M218.5 552.3V592.2M219.5 552.5V592.5M220.5 559.3V594.2M221.5 556.8V595.5M222.5 550.3V595.7M223.5 546.3V593.8M224.5 555.2V592.2M225.5 549.2V591.1M226.5 539.8V592.2M227.5 539.5V593.3M228.5 543.7V592.7M229.5 552.2V593.1M230.5 553.6V591.9M231.5 547.7V591.8M232.5 550.5V591.9M233.5 552.5V591.4M234.5 543.9V591.3M235.5 542.6V592.3M236.5 557.5V593.6M237.5 542.3V594.9M238.5 542.7V596.1M239.5 561.2V594.4M240.5 552.1V592.8M241.5 552.5V591.8M242.5 552.7V591.4M243.5 551.5V591.3M244.5 554.6V590.9M245.5 562.7V591.5M246.5 560.1V591.4M247.5 551.2V591.8M248.5 553.6V592.3M249.5 550.4V591.9M250.5 552.5V592.3M251.5 554.3V591.8M252.5 551.4V592M253.5 548.5V591.5M254.5 553.8V592.1M255.5 546.4V593.5M256.5 556.8V593.5M257.5 557.4V594.3M258.5 562.3V593.9M259.5 568.3V593.2M260.5 550.7V592.2M261.5 548.5V591.9M262.5 550.6V591.5M263.5 552V591.5M264.5 552.6V592.2M265.5 553.3V591.8M266.5 551.4V591.5M267.5 554.8V591.5M268.5 557.9V590.9M269.5 560.4V590.2M270.5 550.3V590.2M271.5 558.7V590M272.5 556.8V590.7M273.5 548.7V591.4M274.5 544.8V592.8M275.5 547.3V594.9M276.5 549.2V597.1M277.5 549.4V596.2M278.5 548.1V594.3M279.5 554.6V592.1M280.5 545.9V591.2M281.5 556.6V590.2M282.5 540.4V590M283.5 539.6V590.2M284.5 552.5V591.5M285.5 546.4V592.1M286.5 542V593M287.5 538.9V591.9M288.5 552.5V590.9M289.5 541.5V590.3M290.5 553.6V590.4M291.5 549.9V591.2M292.5 538.9V591.9M293.5 554.7V591.4M294.5 552.5V590.8M295.5 553.1V589.1M296.5 544.8V588.1M297.5 540.6V588.6M298.5 554.6V589.2M299.5 559.1V590.7M300.5 540.4V590.5M301.5 560.8V590.1M302.5 556.8V590.6M303.5 550.8V592.3M304.5 546.3V592.8M305.5 543.3V592.6M306.5 557.9V591.9M307.5 553.6V590.6M308.5 554.6V589.5M309.5 551.8V589.9M310.5 564.5V590.2M311.5 562.4V591.2M312.5 559V590.3M313.5 557.5V590.3M314.5 552.9V589.9M315.5 549.7V590.9M316.5 560.1V593.1M317.5 558.7V592.4M318.5 555.7V591.9M319.5 556.5V591M320.5 557.9V590.4M321.5 551.6V591M322.5 551.2V591.3M323.5 551.4V592.3M324.5 551.5V592.9M325.5 553.3V594.6M326.5 552V595.1M327.5 552.8V595.4M328.5 556.4V594M329.5 551.4V592.3M330.5 559V590.4M331.5 563.7V590.7M332.5 559.9V590.6M333.5 556.8V590.5M334.5 551.2V590.6M335.5 549.2V591.3M336.5 558.8V591.5M337.5 551.4V591.3M338.5 543.3V590.8M339.5 541.1V590.1M340.5 539.2V591M341.5 557.9V590.4M342.5 551.4V591.3M343.5 543.3V592.6M344.5 543.3V591M345.5 552.5V590.3M346.5 544.8V590.6M347.5 552.4V590.6M348.5 550.3V592M349.5 549.8V591.6M350.5 543.7V592.2M351.5 551V592.3M352.5 543V593.2M353.5 552.5V593.6M354.5 549.9V592.3M355.5 553.6V591.3M356.5 548.8V590.8M357.5 551.6V591.1M358.5 551.4V591.4M359.5 549.5V592.7M360.5 556.8V591.9M361.5 561.3V591.3M362.5 546.3V591.3M363.5 551.4V591.2M364.5 552.5V591.2M365.5 546.1V591.5M366.5 553.2V591.8M367.5 554.6V591.7M368.5 554V590.7M369.5 552.5V590.1M370.5 556.1V590.6M371.5 545.1V591.7M372.5 547V591.5M373.5 556.8V591.7M374.5 551.6V590.8M375.5 552V590.3M376.5 566.1V591M377.5 561.2V591.9M378.5 564.5V592.8M379.5 548.6V592.7M380.5 550.7V592.5M381.5 551.4V590.9M382.5 559V589.8M383.5 556.2V590.9M384.5 552.5V592M385.5 563.4V593M386.5 560.2V594.2M387.5 564.4V594.7M388.5 561.2V592.5M389.5 554.6V591.9M390.5 556.3V591.6M391.5 550.3V592M392.5 560.7V592.9M393.5 560.1V593.2M394.5 538.1V593.5M395.5 541.1V594.2M396.5 553.5V595.3M397.5 557.9V595M398.5 550.7V594.7M399.5 550V593.5M400.5 552.5V592.6M401.5 557.6V591.9M402.5 560.1V591.2M403.5 558.8V591.4M404.5 555.7V591M405.5 558.6V592M406.5 546.7V592.6M407.5 553.6V592.8M408.5 550.7V592.9M409.5 552.6V592.2M410.5 537.6V592.1M411.5 549.7V591.7M412.5 547V591.3M413.5 546.8V591.4M414.5 553.6V590.9M415.5 555.9V590.2M416.5 545.9V589.9M417.5 555.7V590.2M418.5 540.4V591.2M419.5 539.4V592.5M420.5 545.9V593.7M421.5 548.7V593.4M422.5 552V591.5M423.5 547V590.3M424.5 540.8V588.3M425.5 550.7V588.4M426.5 541.5V587.6M427.5 542.7V589.6M428.5 533.2V593.4M429.5 538.3V593.6M430.5 538.3V589.9M431.5 562.6V590.7M432.5 556.8V591.6M433.5 556.1V592.4M434.5 560.1V593.6M435.5 547.7V593.9M436.5 558.6V594.3M437.5 551.4V593.3M438.5 555.4V591.8M439.5 563.4V590.2M440.5 558.9V590.7M441.5 557.9V591.9M442.5 553.6V592.9M443.5 557.5V593.1M444.5 557.8V591.9M445.5 559V591.7M446.5 561.9V591.2M447.5 563.4V591.6M448.5 558.1V592.5M449.5 555.7V592.6M450.5 548.2V592.3M451.5 548.5V591M452.5 550.2V590.7M453.5 556.8V589.9M454.5 549.8V589M455.5 556.6V589.4M456.5 542.6V591.8M457.5 549.9V593.5M458.5 559V591.6M462.5 546.3V588.9M463.5 550.6V590.1M464.5 559V590.6M465.5 545.4V591.1M466.5 552.5V591.5M467.5 540V591.7M468.5 549.8V592.6M469.5 539.6V592.2M470.5 538.9V593.3M471.5 540.4V593.2M472.5 537.6V595.4M473.5 551.4V595.8M474.5 537.9V597.7M475.5 556.8V597M476.5 553.2V594.7M477.5 550.3V591.8M478.5 553.6V589.7M479.5 552.6V588.6M480.5 552.5V588.3M481.5 544.8V587.6M482.5 542.6V589.3M483.5 552.5V589.1M484.5 552V590.1M485.5 547V590.7M486.5 537.2V591.2M487.5 532.6V592M488.5 551.4V593.8M489.5 534.7V595.8M490.5 552V596.9M491.5 557.5V595.1M492.5 557.9V592.2M493.5 558.4V591M494.5 559V591.2M495.5 558V591.3M496.5 557.9V592.1M497.5 555.2V592.5M498.5 559.4V592.5M499.5 549.2V593.2M500.5 546.8V592.4M501.5 548.1V592.4M502.5 558.5V590.4M503.5 548.5V590.4M504.5 559V590M505.5 546.3V590.7M506.5 543.7V590.6M507.5 560.9V590.8M508.5 552.5V589.9M509.5 547V590.2M510.5 555.1V590.7M511.5 554.6V591.1M512.5 561.5V591.8M513.5 561.2V591.8M514.5 559.9V591.5M515.5 563.5V590.7M516.5 562.3V589.5M517.5 560.9V589.2M518.5 550.7V589.4M519.5 550V588.8M520.5 552.5V589.3M521.5 556V590.3M522.5 551.4V590.7M523.5 554.2V592.2M524.5 559V593M525.5 558.4V594.1M526.5 560.1V594.3M527.5 549.8V594.2M528.5 550.3V592.6M529.5 552.5V592.2M530.5 542.9V591.4M531.5 537.6V590.8M532.5 544.6V589.7M533.5 548.1V589.2M534.5 537V588.5M535.5 542.6V587.6M536.5 552.2V589.6M537.5 558.5V591.8M538.5 552.5V592.8M539.5 550.3V592M540.5 550.3V590.2M541.5 544.8V588.5M542.5 548.9V589.2M543.5 552.5V589.2M544.5 553.7V589.6M545.5 550.7V589.9M546.5 556.1V588.8M547.5 546.3V589M548.5 553.6V589.2M549.5 547.8V589.9M550.5 548.1V590M551.5 552.1V590.3M552.5 556.4V590.4M553.5 549.6V591.2M554.5 553.6V591M555.5 546.3V590.3M556.5 549.8V589.8M557.5 549.8V589.7M558.5 546V589.5M559.5 559V589.2M560.5 533.1V589.2M561.5 536.7V588.9M562.5 537.4V589.6M563.5 550.3V590.9M564.5 536.1V592.3M565.5 546.6V595.6M566.5 547V595.3M567.5 543.7V593.9M568.5 555.2V593M569.5 552.5V592.2M570.5 554.6V591.3M571.5 555.7V592.3M572.5 558.2V590.4M573.5 556.4V590.2M574.5 557.9V589.8M575.5 557.9V590.2M576.5 564.5V591.1M577.5 557.9V592.1M578.5 560.3V593M579.5 559V592.5M580.5 559V592.9M581.5 559.4V591.6M582.5 559V592M583.5 550.7V592.3M584.5 562.8V592.8M585.5 559V593.6M586.5 565.5V594M587.5 561.2V594.1M588.5 562.8V594.7M589.5 557.9V594.7M590.5 549.8V594.5M591.5 563.3V594.2M592.5 562.3V593.4M593.5 552.3V593M594.5 559V592.5M595.5 550.6V592.1M596.5 556.8V591.9M597.5 549.8V592M598.5 553.7V591.5M599.5 552.5V591.2M600.5 551.8V590.4M601.5 551.4V590.2M602.5 559V589.9M607.5 552.5V589.6M608.5 541.1V590.8M609.5 547.7V591.6M610.5 547.3V591.5M611.5 550.3V592M612.5 551.5V592.5M613.5 552.5V591.4M614.5 563.4V590.6M619.5 565.6V590.4M620.5 559V591M621.5 554.4V592M622.5 552.5V592.7M623.5 549.2V593.3M624.5 521.9V593.5M625.5 551.7V593.6M626.5 514.2V594.9M627.5 556.8V594.5M628.5 555.5V595.4M629.5 549.8V595.7M630.5 556.8V595.7M631.5 556.3V594.1M632.5 550.7V592.9M633.5 559V592.4M634.5 563.6V591.8M635.5 548.5V591.3M636.5 556.8V591.4M637.5 550V591.4M638.5 552.5V592.1M639.5 553.6V592M640.5 548.9V592.3M641.5 551.4V592.6M642.5 549V593.7M643.5 561.2V593.6M644.5 557.2V594.8M645.5 554.6V594.4M646.5 555.2V594.6M647.5 559V593.9M648.5 558.4V593.3M649.5 555.7V592.4M650.5 557.8V591.6M651.5 560.1V591.9M652.5 559.8V592.3M653.5 563V592M654.5 562.3V592.1M655.5 562.7V592.5M656.5 563.4V592.6M657.5 563.6V592.5M658.5 564.5V592.3M659.5 557.4V593M660.5 553.6V594.6M661.5 565.6V596.6M662.5 563.3V595.1M663.5 561.2V594.3M664.5 551.8V592.8M665.5 554.6V592.6M666.5 553.5V592.1M667.5 557.3V591.9M668.5 556.2V592.6M669.5 553.4V593.7M670.5 554.6V594.5M671.5 549.8V593.7M672.5 554.1V593.1M673.5 556.8V591.3M674.5 549.1V591.5M675.5 547V592M676.5 547.3V592.4M677.5 552.5V593.6M678.5 546.3V594.3M679.5 536.7V594.4M680.5 533.9V594.8M681.5 546.3V594.4M682.5 549V594M683.5 554.6V593.7M684.5 545.9V593.8M685.5 545.4V593.8M686.5 557.9V593M687.5 543.6V593.1M688.5 547V592.3M689.5 554.6V591.8M690.5 557.2V591.2M691.5 542.6V590.7M692.5 549.2V589.4M693.5 537.6V587.1M694.5 561.2V585.2"/>
<path class="k" d="M132.5 569.2V510.5M237.5 568.6V506.6M332.5 575.2V535M365.5 568.8V519.2M457.5 571.7V505.5M477.5 571V524M536.5 570.9V506.1M573.5 573.3V532.3M573.5 573.3V532.3M625.5 572.7V505.5"/>
<path class="d" d="M458.9 571.5 462.2 571.5M602.8 571 607.2 578.7M614.8 572.1 619.2 564.5"/>
</g>
<path class="tk" d="M108.5 615.5v8M186.5 615.5v8M263.5 615.5v8M341.5 615.5v8M419.5 615.5v8M497.5 615.5v8M574.5 615.5v8M652.5 615.5v8M102.5 527.5h-8M102.5 571.5h-8M102.5 615.5h-8"/>
<rect class="sp" x="102.5" y="505.5" width="620.0" height="110.0"/>
<text class="t" x="71.29 80.16" y="533.58">40</text>
<text class="t" x="71.41 80.16" y="577.58">20</text>
<text class="t" x="80.16" y="621.58">0</text>
</g>
<g>
<g>
<path class="b" d="M130.5 688.8V741.3M131.5 682.3V744.4M132.5 677.3V745.7M133.5 674.6V739M134.5 679V747.5M135.5 677.4V745.7M136.5 679.3V742.4M137.5 677.9V747.5M138.5 671.8V747.5M139.5 669.6V747.5M140.5 681.2V744.6M141.5 668.1V746.3M142.5 683.4V732.5M143.5 688.2V733.2M144.5 681.2V747.5M145.5 671.3V743.2M146.5 675.5V742.2M147.5 679V743.5M148.5 678V747.5M149.5 680.1V733.6M150.5 679.2V736.1M151.5 678.3V747.5M152.5 674.1V747.1M153.5 676.8V745.7M154.5 678.7V741.3M155.5 682.6V738.8M156.5 679V741.3M157.5 681.8V737.2M158.5 682.7V739.1M159.5 685.9V742.6M160.5 685.6V747.5M161.5 680.7V735.5M162.5 681.2V734.7M163.5 678.3V747.5M164.5 679V747.5M165.5 681.7V740.5M166.5 686.6V741.3M167.5 689.5V745.6M168.5 684.5V730.3M169.5 673.1V743.5M170.5 684.5V733.6M171.5 691V747.5M172.5 695.1V747.5M173.5 682.7V747.5M174.5 692.8V745.7M175.5 684.5V743.5M176.5 683.2V746.3M177.5 684V739.1M178.5 683.2V747.5M179.5 689.5V738.6M180.5 688.4V747.5M181.5 688.9V747.4M182.5 686.6V736.9M183.5 688.4V733.3M184.5 682.7V747.5M185.5 682.6V738M186.5 684.5V739.1M187.5 679.4V736.6M188.5 681.2V735.8M189.5 682.2V736.9M190.5 682V739.1M191.5 684V739.1M192.5 680.3V744.2M193.5 681.2V740.2M194.5 677.4V744.5M195.5 679V747.5M196.5 678.4V742.1M197.5 670.9V741.3M198.5 681.2V732.3M199.5 679V739.7M200.5 683.4V733.6M201.5 682.5V747.5M202.5 676.8V733.9M203.5 678V740.9M204.5 683.4V745.7M205.5 676.7V735.3M206.5 675.7V738M207.5 683.4V736.2M208.5 672.4V747.5M209.5 670.5V747.5M210.5 676.8V741.3M211.5 671.5V742.6M212.5 682.7V739.1M213.5 679.9V747.5M214.5 680.2V747M215.5 681.8V747.5M216.5 685.4V739.7M217.5 684.5V741.3M218.5 681.1V741.9M219.5 679V736.9M220.5 680.3V738.4M221.5 675.3V747.5M222.5 684.5V745.1M223.5 675.7V743.5M224.5 671.3V737.4M225.5 670.3V745M226.5 684.5V740.2M227.5 680.8V737.5M228.5 681.8V736.9M229.5 686.2V734.7M230.5 676.8V739.7M231.5 674.2V732.5M232.5 679V736.9M233.5 676.5V747.5M234.5 677.5V747.5M235.5 683.4V734.5M236.5 676.8V735.8M237.5 682.6V747.5M238.5 677.9V739.8M239.5 677.4V734.7M240.5 680.1V735.3M241.5 686.6V738M242.5 682.8V740.1M243.5 688.2V741.3M244.5 684.5V738.8M245.5 685.9V736.9M246.5 682.3V741.2M247.5 680.5V739.1M248.5 681.2V734M249.5 679.5V734.2M250.5 679.7V734.7M251.5 688.2V738.1M252.5 684.5V732.5M253.5 677.8V736.2M254.5 680V735.8M255.5 681.2V735.9M256.5 679V736.9M257.5 684.1V739.7M258.5 672.4V739.1M259.5 681.2V739.8M260.5 681.9V738M261.5 682.7V739.1M262.5 671.2V742.4M263.5 674.6V747.5M264.5 681.2V747.5M265.5 680.5V731.5M266.5 680.5V747M267.5 681.2V747.5M268.5 683.2V747.5M269.5 684.5V739.1M270.5 683.9V747.5M271.5 691V747.5M272.5 686.8V747.5M273.5 690.6V747.5M274.5 683.4V736.9M275.5 680.1V742.9M276.5 679V747.5M277.5 679.7V745.3M278.5 680.1V741.3M279.5 683.4V739.1M280.5 683.4V739.1M281.5 686.3V733.1M282.5 680.5V744.6M283.5 682.5V745.3M284.5 686.6V747.5M285.5 682.3V747.5M286.5 685.2V747.5M287.5 676.8V747.5M288.5 675.6V747.5M289.5 682.7V747.5M290.5 683.6V747.5M291.5 681.2V747.5M292.5 685.6V747.5M293.5 681.9V746.3M294.5 680.1V745.5M295.5 683.8V745.7M296.5 678.3V747M297.5 678V742.3M298.5 684.5V747.5M299.5 677.1V747.5M300.5 677.9V747.5M301.5 684.1V747.5M302.5 683.4V747.5M303.5 684.5V747.5M304.5 684.5V747.5M305.5 689.6V739.3M306.5 681.2V740.2M307.5 687.1V747.5M308.5 688.4V747.5M309.5 688V747.5M310.5 684.5V739.1M311.5 675.7V736.3M312.5 688.4V738M313.5 683.4V734.1M314.5 683.4V734.3M315.5 685.6V733.9M316.5 684.5V740.2M317.5 684.9V743M318.5 679V736.9M319.5 679.2V736.9M320.5 685.6V733.8M321.5 679V739.1M322.5 684.8V747.5M323.5 684.5V747.5M324.5 676.9V747.5M325.5 680.5V742.4M326.5 682.5V744.6M327.5 684V746.7M328.5 683.2V740M329.5 682.7V741.4M330.5 680V736.9M331.5 680.1V733.7M332.5 685.6V747.5M333.5 684.5V747.5M334.5 686.6V735.8M335.5 677.5V741.8M336.5 674.9V744.6M337.5 681.2V742.6M338.5 683.4V741.3M339.5 684.7V735.1M340.5 686.6V742.4M341.5 673.1V736.9M342.5 670.8V740.2M343.5 676.8V741.3M344.5 675.3V738.3M345.5 678.1V735.8M346.5 677.5V739.2M347.5 675.4V736.9M348.5 675.7V746.3M349.5 674.6V747.5M350.5 674.6V734.7M351.5 679V741.6M352.5 674.5V747.5M353.5 684.5V743.5M354.5 681.8V739.7M355.5 681.2V740.2M356.5 682.7V734.8M357.5 680.6V734.7M358.5 678.3V744.8M359.5 675.5V741.3M360.5 673.5V740.9M361.5 678.2V743.5M362.5 679V742.2M363.5 676.8V739.1M364.5 680.2V734.9M365.5 683.4V734.3M366.5 686.5V740.6M367.5 684.5V743.5M368.5 683.5V743M369.5 686.6V744.6M370.5 682.7V744.4M371.5 687.6V747.5M372.5 690.6V747.5M373.5 681V743.1M374.5 686.6V744.6M375.5 693.8V744.5M376.5 694.3V739.8M377.5 693.9V747.5M378.5 688.8V747.5M379.5 690.4V747.5M380.5 693.2V735.9M381.5 691.4V740.2M382.5 695.4V747.5M383.5 696.2V747.5M384.5 680.5V747.5M385.5 699.8V739M386.5 687.4V740.2M387.5 689.9V747.5M388.5 694.3V742.7M389.5 695.4V747.5M390.5 685.6V746.3M391.5 690V747.5M392.5 693.2V744.6M393.5 696.5V747.5M394.5 695.4V747.5M395.5 695.5V747.5M396.5 688.4V747.5M397.5 697.6V747.5M398.5 696.4V746.8M399.5 685.6V746.2M400.5 682.7V746.2M401.5 686.9V745.7M402.5 688.8V745.4M403.5 687.7V747.5M404.5 700.4V747.5M405.5 697.6V747.5M406.5 685V747.5M407.5 685.6V747.5M408.5 687.4V747.5M409.5 688.8V745.7M410.5 686.8V744.3M411.5 682.6V746M412.5 685.6V743.1M413.5 686V743.9M414.5 683.4V743.5M415.5 682.5V747M416.5 684.5V739.3M417.5 681.2V747.5M418.5 688.2V747.5M419.5 686.6V743.7M420.5 681.2V747.5M421.5 691.3V741.3M422.5 687.7V747.3M423.5 691.5V737.7M424.5 689.9V747.5M425.5 685.6V747.5M426.5 681.1V747.5M427.5 684.5V747.5M428.5 678.3V747.5M429.5 683.4V747.5M430.5 683.4V747.5M431.5 687.6V747.5M432.5 695.4V747.5M433.5 686.8V747.5M434.5 691V738.3M435.5 690V741.3M436.5 688.4V747.5M437.5 691.3V741.6M438.5 691V747.5M439.5 689.4V747.5M440.5 688.8V744.8M441.5 685.7V743.5M442.5 686.2V743.4M443.5 688.7V745.2M444.5 684.6V743.9M445.5 698.7V744.6M446.5 689.3V747.5M447.5 687.8V745.6M448.5 689.9V747.5M449.5 688.3V747.5M450.5 676.8V746.4M451.5 680.8V744.2M452.5 684.5V745.7M453.5 689.9V747M454.5 685.5V747.5M455.5 683.4V747.4M456.5 684.7V747.5M457.5 685.6V747.5M458.5 685.6V747.5M462.5 685.6V747.5M463.5 679V747.5M464.5 680.7V747.3M465.5 682.7V745.7M466.5 686.6V747.5M467.5 687.9V747.5M468.5 686.5V745.8M469.5 685.6V747.5M470.5 684V747.5M471.5 684.4V747.5M472.5 685V744.6M473.5 686.6V746.1M474.5 690.1V745.7M475.5 689.3V744.7M476.5 690.6V745.9M477.5 674.6V742.7M478.5 685.6V742.9M479.5 689.9V746.5M480.5 689.7V744.6M481.5 675.7V747.5M482.5 679V739.8M483.5 679.4V747.5M484.5 683.4V741.5M485.5 677V747.5M486.5 681.8V745.7M487.5 681.9V744.9M488.5 681.2V742.4M489.5 684.1V742.9M490.5 673.5V741.4M491.5 681.2V739.1M492.5 682V745.7M493.5 684.5V734.2M494.5 686.7V745.7M495.5 693.2V747.5M496.5 684.3V747.5M497.5 685.6V745.4M498.5 687.7V747.5M499.5 681.2V744.6M500.5 680.8V745M501.5 685.6V745.6M502.5 681.9V743.5M503.5 685.8V733.3M504.5 688.8V738M505.5 693.2V742.5M506.5 689.5V745.7M507.5 685.6V739.1M508.5 696.7V747.2M509.5 694.6V741.3M510.5 686.6V739.4M511.5 695.4V733.6M512.5 700.9V732.9M513.5 689.9V739.1M514.5 700.1V747.5M515.5 705.5V747.5M516.5 689.3V747.5M517.5 685.6V739.4M518.5 684.7V741.3M519.5 692.1V743.1M520.5 686.6V747.5M521.5 681.4V747.5M522.5 683.4V747.5M523.5 683.2V742.4M524.5 688.8V744.2M525.5 686.4V742.2M526.5 684.5V745.9M527.5 679V745.7M528.5 680.7V743.1M529.5 685.6V743.7M530.5 685.1V741.3M531.5 683.4V741.4M532.5 683.3V742.4M533.5 682.7V740.6M534.5 673.5V739.1M535.5 682.5V747.5M536.5 683.4V747.5M537.5 678.1V745.4M538.5 678.3V734.7M539.5 683.9V740.7M540.5 684.5V740.2M541.5 674.6V740.6M542.5 676.7V739.1M543.5 679V744M544.5 678.2V747.5M545.5 675.7V747.5M546.5 679.2V747.5M547.5 676.8V746.9M548.5 682.3V744.6M549.5 681.8V745.6M550.5 681.2V741.2M551.5 682.2V736.1M552.5 678.3V739.1M553.5 683.4V738.2M554.5 681.5V737.8M555.5 674.6V734.7M556.5 683.7V744.1M557.5 681.2V747.5M558.5 681.6V736.7M559.5 676.8V746.7M560.5 681.2V743.5M561.5 683.2V735.8M562.5 671.3V740M563.5 674.5V739.1M564.5 672.4V742.4M565.5 671.4V739.2M566.5 674.6V740.2M567.5 672.4V742.4M568.5 671.1V744.3M569.5 677.9V734.7M570.5 684.5V747.5M571.5 681.2V747.5M572.5 671.1V745M573.5 682.3V740M574.5 675.7V740.2M575.5 683.9V739.9M576.5 685.6V726.4M577.5 684.5V736.9M578.5 676.5V736.8M579.5 677.5V739.1M580.5 677.9V739.1M581.5 682.4V738.2M582.5 683.4V736.9M583.5 686.6V735.4M584.5 682.8V739.1M585.5 677.5V731.5M586.5 689.3V732.5M587.5 681.8V734.2M588.5 688.8V735.8M589.5 682V730.6M590.5 681.2V745.7M591.5 675.9V740.5M592.5 682.7V734.7M593.5 681.8V747.5M594.5 680.9V745.9M595.5 681.2V747.5M596.5 681.5V747.5M597.5 682.3V745.7M598.5 674.6V740.5M599.5 676.8V739.1M600.5 675.1V741.8M601.5 675.7V741.3M602.5 676.8V745.7M603.5 677.9V741.3M606.5 683.8V722.9M607.5 680.9V732M608.5 679.1V736M609.5 676.8V740.1M610.5 674.4V743.8M611.5 675V740.6M612.5 676.4V739.1M613.5 679.1V737M614.5 683.1V730.9M615.5 691.7V720.4M619.5 682.3V747.5M620.5 679.7V747.5M621.5 682.7V747.5M622.5 681.2V734.7M623.5 675.8V747.5M624.5 684.5V735.9M625.5 677.9V747.5M626.5 683.8V747.5M627.5 675.3V732.5M628.5 683.5V744.4M629.5 676.8V739.1M630.5 674.5V739.6M631.5 681.2V729.3M632.5 675.7V731.9M633.5 681.5V732.5M634.5 672.4V726M635.5 680.1V743.5M636.5 674.1V729.9M637.5 674V736.9M638.5 681V747.5M639.5 679V739.1M640.5 679.7V735.8M641.5 677.9V734.1M642.5 681.2V734.7M643.5 678.5V735.8M644.5 677.5V735.8M645.5 681.8V737.9M646.5 682.7V730.4M647.5 684.5V734.9M648.5 683.6V734.7M649.5 681.2V732.6M650.5 677.9V728.2M651.5 689.9V728.7M652.5 691.4V736.9M653.5 684.2V733.6M654.5 685.6V732.5M655.5 683V734.7M656.5 684.5V739.1M657.5 678V735.7M658.5 681.2V732.4M659.5 678.3V747.5M660.5 684.8V734.9M661.5 684.5V734.7M662.5 680.1V733.7M663.5 681.2V741.3M664.5 685.6V729.5M665.5 675.5V732.5M666.5 681.8V740.3M667.5 679V739.1M668.5 680.3V736.5M669.5 676.8V737.3M670.5 679V731.5M671.5 677.9V730.8M672.5 677.3V734.7M673.5 676.8V732M674.5 679V732.5M675.5 683.9V730.4M676.5 671.3V736.9M677.5 677.5V740.1M678.5 682.6V747.5M679.5 679V747.5M680.5 668.7V737.1M681.5 677.9V736.9M682.5 675.1V743.4M683.5 675.7V734.7M684.5 678.9V740.6M685.5 677.5V742.4M686.5 678.5V741.8M687.5 676.8V738M688.5 677.5V747.5M689.5 675.7V747.5M690.5 676.8V747.5M691.5 684.5V740.2M692.5 685.7V726.6M693.5 686.6V723.8M694.5 695.4V717.2"/>
<path class="k" d="M272.5 720.1V664.8M272.5 720.1V664.8M471.5 717.1V665.9"/>
<path class="d" d="M458.9 716.2 462.2 708.5M603.6 697 604.6 706 606 714M615.2 699 616.6 708 617.7 712 619 704"/>
</g>
<path class="tk" d="M108.5 747.5v8M186.5 747.5v8M263.5 747.5v8M341.5 747.5v8M419.5 747.5v8M497.5 747.5v8M574.5 747.5v8M652.5 747.5v8M102.5 637.5h-8M102.5 674.5h-8M102.5 711.5h-8M102.5 747.5h-8"/>
<rect class="sp" x="102.5" y="637.5" width="620.0" height="110.0"/>
<text class="t" x="67.16 75.91 80.16" y="643.58">0.0</text>
<text class="t" x="55.54 67.16 75.91 80.16" y="680.25">−0.5</text>
<text class="t" x="55.41 67.04 75.91 80.16" y="716.91">−1.0</text>
<text class="t" x="55.41 67.04 75.91 80.16" y="753.58">−1.5</text>
</g>
<g>
<g>
<path class="b" d="M130.5 796.8V836.1M131.5 791.3V833.8M132.5 781.9V832.9M133.5 793.5V845.8M134.5 781V840.5M135.5 787V843.8M136.5 787.5V843.5M137.5 790.2V839.4M138.5 791.7V842.8M139.5 789.1V842.5M140.5 790.3V841.6M141.5 785.9V835.1M142.5 791.3V849.2M143.5 783.3V840.9M144.5 790.2V838.3M145.5 785.3V846.3M146.5 781V842.7M147.5 781.5V838.3M148.5 784.8V838.3M149.5 787V837.1M150.5 789.8V836.1M151.5 785.9V843.4M152.5 786.7V848.2M153.5 789.1V835.7M154.5 781V838.3M155.5 790.3V839.2M156.5 789.1V843.7M157.5 778.4V835M158.5 792.4V840.2M159.5 778.9V841.6M160.5 778.9V840.2M161.5 778.2V840.5M162.5 779.6V840.6M163.5 779.3V836.1M164.5 784.8V841.3M165.5 778.4V844.9M166.5 780.4V843.8M167.5 776V839.2M168.5 787.8V833.9M169.5 785.9V832M170.5 785V827.4M171.5 782.6V834.8M172.5 782.6V831.8M173.5 784.1V822.9M174.5 783.3V843.8M175.5 788V845.7M176.5 784.7V829.6M177.5 789.1V830.8M178.5 789.4V830.3M179.5 788V828.5M180.5 790.9V826.1M181.5 781.9V827.4M182.5 787V827.7M183.5 788.4V827.3M184.5 785.1V829.6M185.5 789.8V826.9M186.5 786.9V844.9M187.5 785.9V835.2M188.5 785.4V836.1M189.5 787V840.4M190.5 785.3V830.1M191.5 785.9V831.8M192.5 785.1V839.6M193.5 787V839.4M194.5 786.9V839.7M195.5 784.8V840.5M196.5 778.9V845M197.5 786.9V843.2M198.5 790.2V843.8M199.5 783.5V828.9M200.5 778.2V839.4M201.5 788V831.8M202.5 783.8V833.1M203.5 784.8V848.2M204.5 790.9V831M205.5 790.2V840.5M206.5 783.8V838.8M207.5 788V837.5M208.5 786.4V837.1M209.5 780.4V837.6M210.5 795V838.3M211.5 792.4V838.1M212.5 790.9V836.1M213.5 793.5V849.7M214.5 794.1V847.2M215.5 785.9V849.2M216.5 792.6V842.5M217.5 788V839.4M218.5 790.1V834.6M219.5 784.9V831.5M220.5 784.8V836.1M221.5 785.4V836.6M222.5 784.1V832.9M223.5 783V840.5M224.5 789.8V839.4M225.5 794.6V839.6M226.5 781.5V836.1M227.5 783.8V841.7M228.5 783.2V839.4M229.5 783.5V837.5M230.5 784.8V838.1M231.5 784.1V837.2M232.5 784.5V834.6M233.5 788.5V843.8M234.5 789.7V842.9M235.5 785.9V836.1M236.5 787V837.5M237.5 782.6V834.1M238.5 782.8V832.9M239.5 785.9V834.6M240.5 783.6V838.3M241.5 789.1V833M242.5 782.6V831.8M243.5 784.3V835M244.5 781.1V832.3M245.5 789.3V832.9M246.5 785.9V836.5M247.5 790.2V833M248.5 787.2V833.9M249.5 792.4V834.7M250.5 788.5V831.8M251.5 791.3V832.1M252.5 789.2V839.4M253.5 782.6V832.2M254.5 787.4V839.3M255.5 777.6V833.9M256.5 773.2V844.9M257.5 776.5V839.4M258.5 780.4V845.3M259.5 781.5V825.2M260.5 784.8V850.2M261.5 784.8V848.7M262.5 784.7V847.1M263.5 783.7V838.4M264.5 792V837.2M265.5 784V837.4M266.5 787V840.5M267.5 782.8V838.9M268.5 783.2V842.6M269.5 779.1V833.9M270.5 781.5V830.8M271.5 796.8V839.4M272.5 785.7V839M273.5 785.9V840M274.5 776.7V836.1M275.5 789.1V840.5M276.5 780.6V838.3M277.5 784.8V837.6M278.5 779.3V841.6M279.5 785.9V838.3M280.5 784.1V839.4M281.5 782.6V842.4M282.5 790.2V835.5M283.5 792.8V846.6M284.5 788V844.2M285.5 787.7V840.5M286.5 791.3V835.2M287.5 792.4V848.2M288.5 790.5V841.5M289.5 793.5V849M290.5 791.1V843.8M291.5 788V843.9M292.5 788.4V838.3M293.5 790.2V845M294.5 790.4V847M295.5 784.8V848.2M296.5 775.6V845.8M297.5 777.6V841.6M298.5 783.6V833.2M299.5 784.8V836.1M300.5 794.9V835M301.5 790.2V832.9M302.5 785.1V830.1M303.5 784.8V838.3M304.5 780.4V837.6M305.5 785.4V836.6M306.5 785.9V831.8M307.5 779.2V831.8M308.5 777.6V837.2M309.5 787.7V839.3M310.5 787V840.4M311.5 780.9V833.9M312.5 781.5V838.8M313.5 788.8V840.5M314.5 785.9V842.6M315.5 792V841.6M316.5 789.3V831.1M317.5 781.3V835.1M318.5 788V833.9M319.5 784.1V829.4M320.5 781.6V825.2M321.5 775.4V842.8M322.5 779.6V844.4M323.5 781.5V833.6M324.5 781.4V829.6M325.5 785.9V829.9M326.5 788.2V832.9M327.5 784.8V828.1M328.5 781.1V833.9M329.5 773.8V838.3M330.5 779.3V837.3M331.5 779.1V833.9M332.5 788V838.8M333.5 789V838.3M334.5 778.2V847.6M335.5 783.2V833.9M336.5 788.5V852.5M337.5 784.2V845.5M338.5 785.9V840.5M339.5 788V850.7M340.5 778.8V842.5M341.5 781.9V833.9M342.5 784.7V835.2M343.5 788V840.5M344.5 788.5V841.1M345.5 790.2V836.1M346.5 771.8V846M347.5 773.8V859.1M348.5 791.3V856.2M349.5 793.7V854.1M350.5 785.9V841.6M351.5 783.3V849.6M352.5 793.5V844.4M353.5 790.1V850.3M354.5 781.5V853.2M355.5 789.1V838.3M356.5 788.3V835.9M357.5 796.8V835M358.5 800.2V837.6M359.5 781V838.7M360.5 781.5V842.7M361.5 785.3V842.2M362.5 789.8V838.3M363.5 782.4V843M364.5 783.7V843.8M365.5 791.7V833.2M366.5 790.2V833.9M367.5 789.1V835.3M368.5 785.8V838.3M369.5 786.3V837.2M370.5 787V838.1M371.5 784.4V832.9M372.5 784.1V836.2M373.5 781.2V838.3M374.5 792.4V842.4M375.5 783.1V840.5M376.5 779.7V842.3M377.5 780.5V835.3M378.5 780.4V838.3M379.5 785.3V839.2M380.5 779.3V833.9M381.5 783.7V831.6M382.5 788V837.2M383.5 780.4V826.9M384.5 777.1V830.7M385.5 772.7V834.6M386.5 770.1V829.6M387.5 770.8V828.6M388.5 784.8V824.1M389.5 789.1V833.7M390.5 771V833.9M391.5 788.7V839.6M392.5 788V827.4M393.5 773.3V832.3M394.5 776V839.4M395.5 784.8V844.1M396.5 780.3V833.9M397.5 781.5V834M398.5 776.8V833.9M399.5 783.5V832.6M400.5 773.2V829.4M401.5 784.8V831.8M402.5 772V844.4M403.5 778.2V843.9M404.5 783.6V834M405.5 785.9V835M406.5 784.2V835.6M407.5 788V839.4M408.5 783.2V838M409.5 792.4V841.6M410.5 789.1V843.3M411.5 791.7V837.1M412.5 789.8V840.5M413.5 785.7V849.7M414.5 781V842.5M415.5 786.2V851.9M416.5 788.5V838.3M417.5 774.9V835.4M418.5 776.4V833.9M419.5 788V846.7M420.5 792.2V838.2M421.5 792.4V846.6M422.5 792.9V837.8M423.5 788V839.4M424.5 787.7V839.7M425.5 791.3V842.7M426.5 787.6V841.4M427.5 788V839.4M428.5 794.6V850.3M429.5 792.4V840.5M430.5 784.8V841.6M431.5 786.7V838.4M432.5 778.9V838.7M433.5 779.3V831.8M434.5 787V835M435.5 779.3V829.6M436.5 776.3V834.5M437.5 783.7V837.2M438.5 786.4V839.9M439.5 784.8V834.6M440.5 782.9V829.6M441.5 783.2V835M442.5 778.2V832.5M443.5 776.8V836.5M444.5 784.8V828.5M445.5 781.5V825.3M446.5 781.1V833.9M447.5 785.9V844.9M448.5 783.1V841.9M449.5 781.5V847.2M450.5 787.3V839.4M451.5 787V838.9M452.5 785.9V848.2M453.5 783.6V842.8M454.5 780.4V840.5M455.5 785.2V847.5M456.5 787V846M457.5 787.5V842.1M458.5 788V838.3M462.5 778.9V839.4M463.5 782.3V836.1M464.5 787V833.9M465.5 780.4V848.7M466.5 783.3V846M467.5 785.9V850.3M468.5 778.2V838.3M469.5 789.1V838.6M470.5 781V842.7M471.5 791.3V838M472.5 782.6V846.6M473.5 781.7V848.1M474.5 785.9V847.5M475.5 787.5V833.9M476.5 792.4V839.1M477.5 775.5V848.8M478.5 781.5V849.5M479.5 784.8V839.4M480.5 786.4V839.9M481.5 777.1V842.7M482.5 790.2V844.5M483.5 784.2V838.3M484.5 779.7V839.6M485.5 789.9V843.7M486.5 789.1V841.6M487.5 786.9V839.8M488.5 787V847.1M489.5 791.3V843.3M490.5 795.6V840.5M491.5 784.8V837.3M492.5 782.8V838.3M493.5 792.4V837.1M494.5 792.9V844.9M495.5 793.5V841.7M496.5 790.9V836.1M497.5 790.2V841.7M498.5 789.5V836.9M499.5 788V841.6M500.5 781.9V835.5M501.5 791.3V836.1M502.5 784.9V833.3M503.5 783.2V828.5M504.5 784.5V833.5M505.5 785.9V836.1M506.5 784.1V834.2M507.5 784V831.8M508.5 780V837.6M509.5 785.9V839.4M510.5 779.3V818.7M511.5 786V823M512.5 791.3V828.5M513.5 775.4V829.6M514.5 784.5V829.9M515.5 774.5V831.3M516.5 783.7V831.8M517.5 783.4V839M518.5 776.7V839.4M519.5 783.2V837.2M520.5 777.6V836.1M521.5 782.6V832.6M522.5 790.3V831.8M523.5 787V834.5M524.5 785.9V833.9M525.5 784.8V833.6M526.5 790.4V832.5M527.5 780.4V832.9M528.5 788V833.8M529.5 788V838.3M530.5 784.8V829.6M531.5 790.6V840M532.5 785.9V844.9M533.5 785.6V853M534.5 781.9V841.6M535.5 788V851.4M536.5 788.6V838.3M537.5 783.2V849.9M538.5 789.9V831.7M539.5 790.2V836.1M540.5 781.1V839.6M541.5 788V833.9M542.5 789.1V832.5M543.5 788.4V840.5M544.5 780.4V837.9M545.5 787.4V836.1M546.5 785.9V839.9M547.5 783.5V841.6M548.5 778.2V852.6M549.5 773.9V843.1M550.5 790.2V854.7M551.5 789.1V853.6M552.5 790V839.4M553.5 784.1V839.8M554.5 790.3V840.5M555.5 785.9V837.8M556.5 784V838.3M557.5 791.3V840.7M558.5 788.2V847.1M559.5 787V852.2M560.5 788.5V849.2M561.5 786.9V848.1M562.5 789.5V848.9M563.5 790.2V839.4M564.5 790.7V841.1M565.5 791.3V848.2M566.5 791.5V853.9M567.5 784.8V844.6M568.5 786.3V853.6M569.5 791.3V845.2M570.5 781.4V841.6M571.5 785.9V838.8M572.5 790.3V835.9M573.5 788V838.3M574.5 791.3V838.3M575.5 807V833.9M576.5 804.4V831.9M577.5 785.9V836.1M578.5 805.8V836.3M579.5 784.8V839.4M580.5 785.9V839.4M581.5 785.2V840.4M582.5 783.7V838.1M583.5 783.2V837.2M584.5 782.6V836.7M585.5 788.6V833.9M586.5 788V824.1M587.5 791.9V833M588.5 790.2V833.9M589.5 791.2V839.3M590.5 787V831.8M591.5 779.3V843.8M592.5 785.9V838.9M593.5 784.3V842.3M594.5 785.1V837.2M595.5 784.8V835.6M596.5 783.7V832.9M597.5 783.9V836.6M598.5 782.6V836.1M599.5 786.6V837.6M600.5 784.1V838.3M601.5 791.3V838.9M602.5 799V839.4M606.5 799V829.6M607.5 791.3V838.3M608.5 789.1V839.4M609.5 792.9V838.3M610.5 784.8V846.6M611.5 789.1V839.4M612.5 790.5V838M613.5 791.3V837.2M614.5 796.8V838.3M619.5 785.9V838.3M620.5 784V843.8M621.5 781V842.3M622.5 789.4V840.5M623.5 787V840.7M624.5 785.3V846M625.5 790.2V841.7M626.5 784.8V851.4M627.5 784.4V850.3M628.5 788V840.5M629.5 791V846.7M630.5 784.1V846M631.5 789.1V844.7M632.5 790.4V839.4M633.5 783.2V839.5M634.5 789.8V848.1M635.5 791.3V844.9M636.5 790.2V848.4M637.5 788.5V847.1M638.5 792.4V834.8M639.5 782.6V839.4M640.5 780.8V842.2M641.5 787V836.1M642.5 784.2V838.1M643.5 785.9V833.9M644.5 789.1V846.3M645.5 779.7V837.3M646.5 781V844.9M647.5 780.4V830.2M648.5 785.9V836.1M649.5 775.3V846.1M650.5 787V837.2M651.5 792.4V831.8M652.5 798.4V833.2M653.5 788V842.6M654.5 781V843.8M655.5 781.8V844.1M656.5 787V838.3M657.5 785.4V833.7M658.5 785.9V832.9M659.5 789.1V832.1M660.5 782.6V831.8M661.5 780.8V832.5M662.5 786.3V830.7M663.5 784.8V832.8M664.5 780.4V831.1M665.5 785.3V833.9M666.5 784.8V830.1M667.5 781.7V840.5M668.5 780.4V837M669.5 779.7V845.3M670.5 784.8V835M671.5 787V838.4M672.5 784.2V836.5M673.5 792.4V833.9M674.5 780.4V837.2M675.5 785.8V831.8M676.5 782.6V847.5M677.5 783.7V838.9M678.5 779.2V838.3M679.5 784.8V847.7M680.5 784.9V838.1M681.5 792.4V840.5M682.5 783.6V840.8M683.5 784.8V838.3M684.5 779.3V837.8M685.5 793.5V839.4M686.5 790.2V842.1M687.5 781.5V841.6M688.5 792.2V845.2M689.5 790.2V837.2M690.5 794.7V842.7M691.5 792.4V837.8M692.5 793.5V833.9M693.5 795.2V832.6M694.5 796.8V831.8"/>
<path class="k" d="M244.5 806.7V769.5M208.5 811.8V866.3M457.5 814.8V856.2M507.5 807.9V769.5M537.5 816.5V879.5M661.5 806.6V771M688.5 818.7V773.8"/>
<path class="d" d="M458.9 819.7 462.2 821.9M602.8 816.5 606.5 806.6M614.8 817.6 619.2 792.4"/>
</g>
<path class="tk" d="M108.5 879.5v8M186.5 879.5v8M263.5 879.5v8M341.5 879.5v8M419.5 879.5v8M497.5 879.5v8M574.5 879.5v8M652.5 879.5v8M102.5 785.5h-8M102.5 824.5h-8M102.5 864.5h-8"/>
<rect class="sp" x="102.5" y="769.5" width="620.0" height="110.0"/>
<text class="t" x="67.16 75.91 80.16" y="791.29">2.5</text>
<text class="t" x="67.16 75.91 80.16" y="830.58">0.0</text>
<text class="t" x="55.54 67.16 75.91 80.16" y="869.87">−2.5</text>
</g>
<text class="t" x="102.36 111.23 119.48 131.11" y="237.58">1e−5</text>
<text class="t" x="85.38 94.12 102.88 111.62 120.38" y="903.50">55000</text>
<text class="t" x="163.09 171.84 180.59 189.34 198.09" y="903.50">55200</text>
<text class="t" x="240.74 249.49 258.24 267.11 275.86" y="903.50">55400</text>
<text class="t" x="318.51 327.26 336.01 344.76 353.51" y="903.50">55600</text>
<text class="t" x="396.22 404.97 413.72 422.47 431.22" y="903.50">55800</text>
<text class="t" x="473.94 482.69 491.44 500.19 508.94" y="903.50">56000</text>
<text class="t" x="551.65 560.4 569.15 577.9 586.65" y="903.50">56200</text>
<text class="t" x="629.3 638.05 646.8 655.67 664.42" y="903.50">56400</text>
<text class="l" x="387.42 410.17 419.04" y="929.63">MJD</text>
<g transform="translate(27.59 172.91) rotate(-90)"><text><tspan class="m" x="0" y="-0.04">g</tspan></text></g>
<g transform="translate(54.90 330.36) rotate(-90)"><text><tspan class="m" x="0" y="-1.17">σ</tspan><tspan class="s" x="14.08" y="2.47">0</tspan><tspan class="l" x="24.59 31.65 40.32 56.37" y="-1.17"> [V]</tspan></text></g>
<g transform="translate(28.89 472.38) rotate(-90)"><text><tspan class="m" x="0" y="-1.17">σ</tspan><tspan class="s" x="14.08" y="2.47">0</tspan><tspan class="l" x="24.59 31.65 40.32 61.39 78" y="-1.17"> [mK]</tspan></text></g>
<g transform="translate(59.81 623.36) rotate(-90)"><text><tspan class="m" x="0" y="-1.17">f</tspan><tspan class="s" x="7.82 16.83 26.69 36.26" y="2.47">knee</tspan><tspan class="l" x="46.44 53.5 62.17 83.24 102.62 114.33" y="-1.17"> [mHz]</tspan></text></g>
<g transform="translate(43.76 700.63) rotate(-90)"><text><tspan class="m" x="0" y="-0.02">α</tspan></text></g>
<g transform="translate(41.96 837.63) rotate(-90)"><text><tspan class="m" x="0" y="-0.78">χ</tspan><tspan class="s" x="14.15" y="-9.29">2</tspan></text></g>
</svg>
</body></html>
